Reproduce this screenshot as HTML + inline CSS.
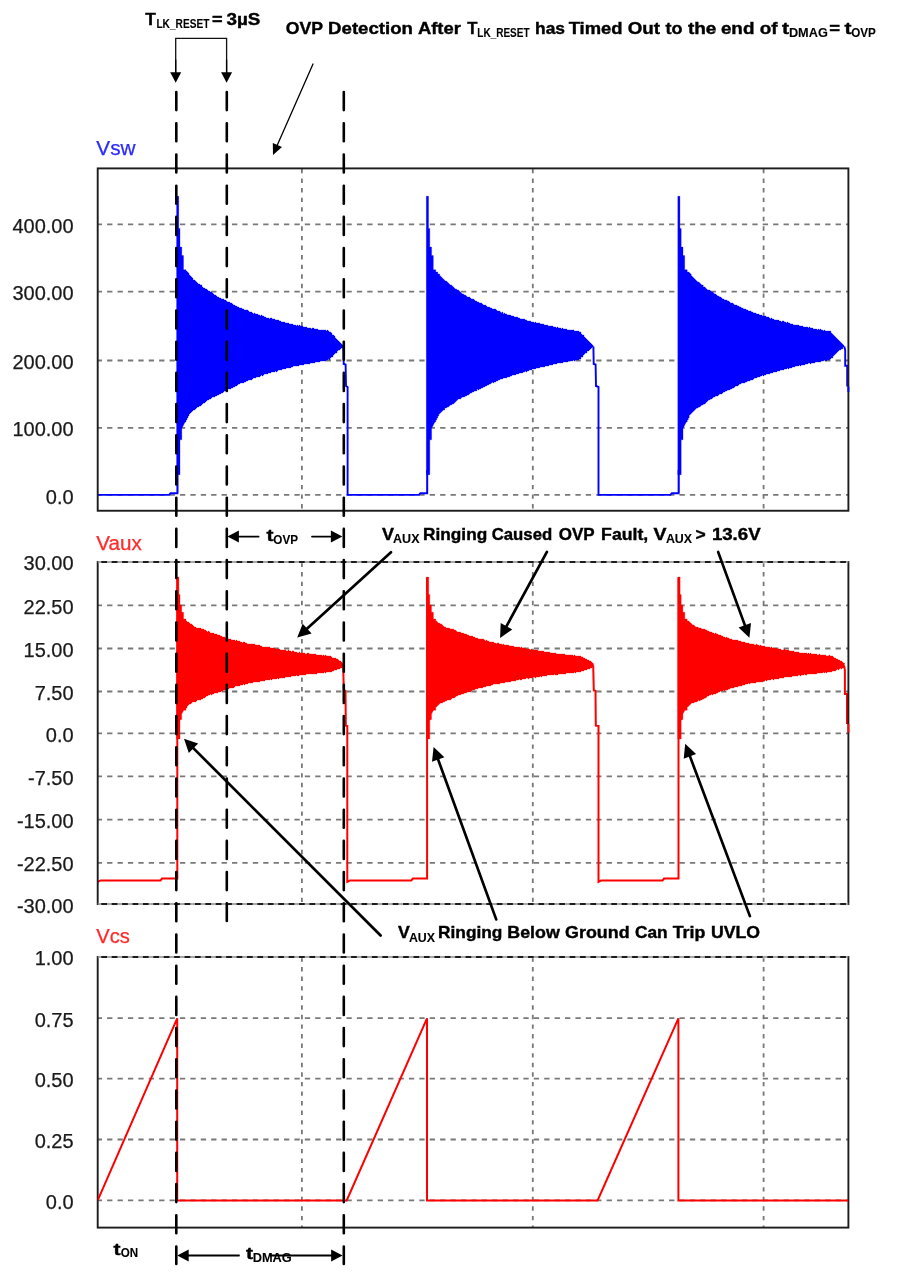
<!DOCTYPE html>
<html><head><meta charset="utf-8"><title>Waveforms</title>
<style>html,body{margin:0;padding:0;background:#fff}svg{display:block}</style>
</head><body>
<svg width="906" height="1276" viewBox="0 0 906 1276">
<rect width="906" height="1276" fill="#fff"/>
<line x1="97.7" y1="224.3" x2="848.4" y2="224.3" stroke="#787878" stroke-width="1.8" stroke-dasharray="5.3 5.107" stroke-dashoffset="1.0"/>
<line x1="97.7" y1="291.7" x2="848.4" y2="291.7" stroke="#787878" stroke-width="1.8" stroke-dasharray="5.3 5.107" stroke-dashoffset="1.0"/>
<line x1="97.7" y1="360.5" x2="848.4" y2="360.5" stroke="#787878" stroke-width="1.8" stroke-dasharray="5.3 5.107" stroke-dashoffset="1.0"/>
<line x1="97.7" y1="427.8" x2="848.4" y2="427.8" stroke="#787878" stroke-width="1.8" stroke-dasharray="5.3 5.107" stroke-dashoffset="1.0"/>
<line x1="97.7" y1="494.9" x2="848.4" y2="494.9" stroke="#787878" stroke-width="1.8" stroke-dasharray="5.3 5.107" stroke-dashoffset="1.0"/>
<line x1="301.9" y1="168.4" x2="301.9" y2="510.75" stroke="#787878" stroke-width="1.8" stroke-dasharray="4.4 5.175" stroke-dashoffset="9.075"/>
<line x1="532.8" y1="168.4" x2="532.8" y2="510.75" stroke="#787878" stroke-width="1.8" stroke-dasharray="4.4 5.175" stroke-dashoffset="9.075"/>
<line x1="763.6" y1="168.4" x2="763.6" y2="510.75" stroke="#787878" stroke-width="1.8" stroke-dasharray="4.4 5.175" stroke-dashoffset="9.075"/>
<clipPath id="c1"><rect x="97.7" y="168.4" width="751.9" height="342.35"/></clipPath>
<g clip-path="url(#c1)">
<polygon points="176.6,196.3 178.7,196.3 178.7,228.4 180.0,228.4 180.0,247.1 181.8,247.1 181.8,255.6 183.5,255.6 183.5,269.7 186.0,269.7 186.0,271.0 187.0,271.0 187.0,272.0 188.0,272.0 188.0,273.0 189.0,273.0 189.0,275.0 190.0,275.0 190.0,276.0 191.0,276.0 191.0,277.0 192.0,277.0 192.0,278.0 193.0,278.0 193.0,280.0 194.0,280.0 194.0,280.0 195.0,280.0 195.0,281.0 196.0,281.0 196.0,282.0 197.0,282.0 197.0,283.0 198.0,283.0 198.0,284.0 199.0,284.0 199.0,284.0 200.0,284.0 200.0,285.0 201.0,285.0 201.0,285.0 202.0,285.0 202.0,287.0 203.0,287.0 203.0,288.0 204.0,288.0 204.0,288.0 205.0,288.0 205.0,289.0 206.0,289.0 206.0,289.0 207.0,289.0 207.0,290.0 208.0,290.0 208.0,291.0 209.0,291.0 209.0,291.0 210.0,291.0 210.0,292.0 211.0,292.0 211.0,292.0 212.0,292.0 212.0,293.0 213.0,293.0 213.0,294.0 214.0,294.0 214.0,295.0 215.0,295.0 215.0,295.0 216.0,295.0 216.0,296.0 217.0,296.0 217.0,297.0 218.0,297.0 218.0,297.0 219.0,297.0 219.0,298.0 220.0,298.0 220.0,298.0 221.0,298.0 221.0,299.0 222.0,299.0 222.0,299.0 223.0,299.0 223.0,299.0 224.0,299.0 224.0,300.0 225.0,300.0 225.0,300.0 226.0,300.0 226.0,301.0 227.0,301.0 227.0,302.0 228.0,302.0 228.0,302.0 229.0,302.0 229.0,302.0 230.0,302.0 230.0,303.0 231.0,303.0 231.0,303.0 232.0,303.0 232.0,304.0 233.0,304.0 233.0,305.0 234.0,305.0 234.0,305.0 235.0,305.0 235.0,306.0 236.0,306.0 236.0,306.0 237.0,306.0 237.0,307.0 238.0,307.0 238.0,307.0 239.0,307.0 239.0,308.0 240.0,308.0 240.0,308.0 241.0,308.0 241.0,308.0 242.0,308.0 242.0,309.0 243.0,309.0 243.0,309.0 244.0,309.0 244.0,310.0 245.0,310.0 245.0,310.0 246.0,310.0 246.0,310.0 247.0,310.0 247.0,310.0 248.0,310.0 248.0,311.0 249.0,311.0 249.0,312.0 250.0,312.0 250.0,312.0 251.0,312.0 251.0,312.0 252.0,312.0 252.0,313.0 253.0,313.0 253.0,314.0 254.0,314.0 254.0,313.0 255.0,313.0 255.0,314.0 256.0,314.0 256.0,314.0 257.0,314.0 257.0,314.0 258.0,314.0 258.0,315.0 259.0,315.0 259.0,315.0 260.0,315.0 260.0,316.0 261.0,316.0 261.0,315.0 262.0,315.0 262.0,316.0 263.0,316.0 263.0,316.0 264.0,316.0 264.0,317.0 265.0,317.0 265.0,317.0 266.0,317.0 266.0,318.0 267.0,318.0 267.0,318.0 268.0,318.0 268.0,318.0 269.0,318.0 269.0,319.0 270.0,319.0 270.0,318.0 271.0,318.0 271.0,318.0 272.0,318.0 272.0,319.0 273.0,319.0 273.0,319.0 274.0,319.0 274.0,319.0 275.0,319.0 275.0,320.0 276.0,320.0 276.0,320.0 277.0,320.0 277.0,320.0 278.0,320.0 278.0,320.0 279.0,320.0 279.0,321.0 280.0,321.0 280.0,321.0 281.0,321.0 281.0,322.0 282.0,322.0 282.0,322.0 283.0,322.0 283.0,322.0 284.0,322.0 284.0,322.0 285.0,322.0 285.0,323.0 286.0,323.0 286.0,323.0 287.0,323.0 287.0,323.0 288.0,323.0 288.0,323.0 289.0,323.0 289.0,324.0 290.0,324.0 290.0,324.0 291.0,324.0 291.0,324.0 292.0,324.0 292.0,324.0 293.0,324.0 293.0,325.0 294.0,325.0 294.0,325.0 295.0,325.0 295.0,325.0 296.0,325.0 296.0,326.0 297.0,326.0 297.0,325.0 298.0,325.0 298.0,326.0 299.0,326.0 299.0,325.0 300.0,325.0 300.0,326.0 301.0,326.0 301.0,326.0 302.0,326.0 302.0,326.0 303.0,326.0 303.0,327.0 304.0,327.0 304.0,327.0 305.0,327.0 305.0,327.0 306.0,327.0 306.0,327.0 307.0,327.0 307.0,328.0 308.0,328.0 308.0,328.0 309.0,328.0 309.0,328.0 310.0,328.0 310.0,328.0 311.0,328.0 311.0,329.0 312.0,329.0 312.0,328.0 313.0,328.0 313.0,328.0 314.0,328.0 314.0,329.0 315.0,329.0 315.0,329.0 316.0,329.0 316.0,329.0 317.0,329.0 317.0,329.0 318.0,329.0 318.0,330.0 319.0,330.0 319.0,330.0 320.0,330.0 320.0,330.0 321.0,330.0 321.0,330.0 322.0,330.0 322.0,330.0 323.0,330.0 323.0,330.0 324.0,330.0 324.0,330.0 325.0,330.0 325.0,330.0 326.0,330.0 326.0,331.0 327.0,331.0 327.0,330.0 328.0,330.0 328.0,331.0 329.0,331.0 329.0,332.0 330.0,332.0 330.0,332.0 331.0,332.0 331.0,333.0 332.0,333.0 332.0,335.0 333.0,335.0 333.0,335.0 334.0,335.0 334.0,336.0 335.0,336.0 335.0,338.0 336.0,338.0 336.0,339.0 337.0,339.0 337.0,340.0 338.0,340.0 338.0,341.0 339.0,341.0 339.0,342.0 340.0,342.0 340.0,343.0 341.0,343.0 341.0,344.0 342.0,344.0 342.0,345.0 343.0,345.0 343.0,346.0 343.2,346.0 343.2,346.4 343.2,346.4 343.2,347.0 343.0,347.0 343.0,348.0 342.0,348.0 342.0,348.0 341.0,348.0 341.0,349.0 340.0,349.0 340.0,350.0 339.0,350.0 339.0,350.0 338.0,350.0 338.0,351.0 337.0,351.0 337.0,353.0 336.0,353.0 336.0,353.0 335.0,353.0 335.0,354.0 334.0,354.0 334.0,355.0 333.0,355.0 333.0,357.0 332.0,357.0 332.0,357.0 331.0,357.0 331.0,358.0 330.0,358.0 330.0,360.0 329.0,360.0 329.0,359.0 328.0,359.0 328.0,360.0 327.0,360.0 327.0,360.0 326.0,360.0 326.0,361.0 325.0,361.0 325.0,361.0 324.0,361.0 324.0,361.0 323.0,361.0 323.0,361.0 322.0,361.0 322.0,361.0 321.0,361.0 321.0,361.0 320.0,361.0 320.0,362.0 319.0,362.0 319.0,362.0 318.0,362.0 318.0,362.0 317.0,362.0 317.0,362.0 316.0,362.0 316.0,362.0 315.0,362.0 315.0,363.0 314.0,363.0 314.0,363.0 313.0,363.0 313.0,363.0 312.0,363.0 312.0,363.0 311.0,363.0 311.0,363.0 310.0,363.0 310.0,364.0 309.0,364.0 309.0,364.0 308.0,364.0 308.0,364.0 307.0,364.0 307.0,364.0 306.0,364.0 306.0,364.0 305.0,364.0 305.0,364.0 304.0,364.0 304.0,365.0 303.0,365.0 303.0,365.0 302.0,365.0 302.0,365.0 301.0,365.0 301.0,365.0 300.0,365.0 300.0,365.0 299.0,365.0 299.0,366.0 298.0,366.0 298.0,366.0 297.0,366.0 297.0,366.0 296.0,366.0 296.0,366.0 295.0,366.0 295.0,366.0 294.0,366.0 294.0,366.0 293.0,366.0 293.0,367.0 292.0,367.0 292.0,367.0 291.0,367.0 291.0,368.0 290.0,368.0 290.0,368.0 289.0,368.0 289.0,368.0 288.0,368.0 288.0,368.0 287.0,368.0 287.0,368.0 286.0,368.0 286.0,369.0 285.0,369.0 285.0,369.0 284.0,369.0 284.0,369.0 283.0,369.0 283.0,369.0 282.0,369.0 282.0,370.0 281.0,370.0 281.0,370.0 280.0,370.0 280.0,370.0 279.0,370.0 279.0,370.0 278.0,370.0 278.0,371.0 277.0,371.0 277.0,372.0 276.0,372.0 276.0,371.0 275.0,371.0 275.0,372.0 274.0,372.0 274.0,372.0 273.0,372.0 273.0,372.0 272.0,372.0 272.0,372.0 271.0,372.0 271.0,373.0 270.0,373.0 270.0,373.0 269.0,373.0 269.0,373.0 268.0,373.0 268.0,374.0 267.0,374.0 267.0,374.0 266.0,374.0 266.0,374.0 265.0,374.0 265.0,374.0 264.0,374.0 264.0,375.0 263.0,375.0 263.0,376.0 262.0,376.0 262.0,375.0 261.0,375.0 261.0,376.0 260.0,376.0 260.0,377.0 259.0,377.0 259.0,377.0 258.0,377.0 258.0,377.0 257.0,377.0 257.0,377.0 256.0,377.0 256.0,378.0 255.0,378.0 255.0,378.0 254.0,378.0 254.0,378.0 253.0,378.0 253.0,379.0 252.0,379.0 252.0,380.0 251.0,380.0 251.0,380.0 250.0,380.0 250.0,380.0 249.0,380.0 249.0,380.0 248.0,380.0 248.0,381.0 247.0,381.0 247.0,381.0 246.0,381.0 246.0,382.0 245.0,382.0 245.0,382.0 244.0,382.0 244.0,383.0 243.0,383.0 243.0,383.0 242.0,383.0 242.0,383.0 241.0,383.0 241.0,383.0 240.0,383.0 240.0,384.0 239.0,384.0 239.0,384.0 238.0,384.0 238.0,385.0 237.0,385.0 237.0,386.0 236.0,386.0 236.0,386.0 235.0,386.0 235.0,387.0 234.0,387.0 234.0,387.0 233.0,387.0 233.0,388.0 232.0,388.0 232.0,388.0 231.0,388.0 231.0,389.0 230.0,389.0 230.0,389.0 229.0,389.0 229.0,389.0 228.0,389.0 228.0,389.0 227.0,389.0 227.0,390.0 226.0,390.0 226.0,391.0 225.0,391.0 225.0,391.0 224.0,391.0 224.0,392.0 223.0,392.0 223.0,393.0 222.0,393.0 222.0,393.0 221.0,393.0 221.0,394.0 220.0,394.0 220.0,394.0 219.0,394.0 219.0,395.0 218.0,395.0 218.0,395.0 217.0,395.0 217.0,396.0 216.0,396.0 216.0,396.0 215.0,396.0 215.0,397.0 214.0,397.0 214.0,397.0 213.0,397.0 213.0,397.0 212.0,397.0 212.0,398.0 211.0,398.0 211.0,399.0 210.0,399.0 210.0,399.0 209.0,399.0 209.0,400.0 208.0,400.0 208.0,400.0 207.0,400.0 207.0,401.0 206.0,401.0 206.0,402.0 205.0,402.0 205.0,403.0 204.0,403.0 204.0,403.0 203.0,403.0 203.0,404.0 202.0,404.0 202.0,405.0 201.0,405.0 201.0,406.0 200.0,406.0 200.0,406.0 199.0,406.0 199.0,407.0 198.0,407.0 198.0,407.0 197.0,407.0 197.0,408.0 196.0,408.0 196.0,409.0 195.0,409.0 195.0,410.0 194.0,410.0 194.0,410.0 193.0,410.0 193.0,411.0 192.0,411.0 192.0,412.0 191.0,412.0 191.0,413.0 190.0,413.0 190.0,414.0 189.0,414.0 189.0,416.0 188.0,416.0 188.0,418.0 187.0,418.0 187.0,420.0 186.0,420.0 186.0,422.0 185.1,422.0 181.8,428.5 181.8,439.8 180.0,439.8 180.0,474.7 176.6,474.7" fill="#0000ff" stroke="#0000ff" stroke-width="0.3"/>
<line x1="177.6" y1="196.5" x2="177.6" y2="493" stroke="#0000ff" stroke-width="1.3"/>
<polygon points="426.4,196.3 428.5,196.3 428.5,228.4 429.8,228.4 429.8,247.1 431.6,247.1 431.6,255.6 433.3,255.6 433.3,269.7 435.8,269.7 435.8,272.0 436.8,272.0 436.8,272.0 437.8,272.0 437.8,274.0 438.8,274.0 438.8,274.0 439.8,274.0 439.8,276.0 440.8,276.0 440.8,277.0 441.8,277.0 441.8,278.0 442.8,278.0 442.8,279.0 443.8,279.0 443.8,280.0 444.8,280.0 444.8,281.0 445.8,281.0 445.8,281.0 446.8,281.0 446.8,282.0 447.8,282.0 447.8,283.0 448.8,283.0 448.8,284.0 449.8,284.0 449.8,285.0 450.8,285.0 450.8,285.0 451.8,285.0 451.8,286.0 452.8,286.0 452.8,287.0 453.8,287.0 453.8,288.0 454.8,288.0 454.8,289.0 455.8,289.0 455.8,289.0 456.8,289.0 456.8,290.0 457.8,290.0 457.8,290.0 458.8,290.0 458.8,291.0 459.8,291.0 459.8,292.0 460.8,292.0 460.8,293.0 461.8,293.0 461.8,294.0 462.8,294.0 462.8,294.0 463.8,294.0 463.8,295.0 464.8,295.0 464.8,295.0 465.8,295.0 465.8,296.0 466.8,296.0 466.8,297.0 467.8,297.0 467.8,297.0 468.9,297.0 468.9,297.0 469.9,297.0 469.9,298.0 470.9,298.0 470.9,299.0 471.9,299.0 471.9,299.0 472.9,299.0 472.9,299.0 473.9,299.0 473.9,300.0 474.9,300.0 474.9,301.0 475.9,301.0 475.9,301.0 476.9,301.0 476.9,302.0 477.9,302.0 477.9,302.0 478.9,302.0 478.9,303.0 479.9,303.0 479.9,303.0 480.9,303.0 480.9,303.0 481.9,303.0 481.9,304.0 482.9,304.0 482.9,305.0 483.9,305.0 483.9,305.0 484.9,305.0 484.9,305.0 485.9,305.0 485.9,306.0 486.9,306.0 486.9,307.0 487.9,307.0 487.9,307.0 488.9,307.0 488.9,307.0 489.9,307.0 489.9,308.0 490.9,308.0 490.9,308.0 491.9,308.0 491.9,309.0 492.9,309.0 492.9,309.0 493.9,309.0 493.9,309.0 494.9,309.0 494.9,309.0 495.9,309.0 495.9,310.0 496.9,310.0 496.9,311.0 497.9,311.0 497.9,311.0 498.9,311.0 498.9,311.0 499.9,311.0 499.9,312.0 500.9,312.0 500.9,313.0 501.9,313.0 501.9,312.0 502.9,312.0 502.9,314.0 503.9,314.0 503.9,313.0 504.9,313.0 504.9,314.0 505.9,314.0 505.9,314.0 506.9,314.0 506.9,315.0 507.9,315.0 507.9,315.0 508.9,315.0 508.9,315.0 509.9,315.0 509.9,315.0 510.9,315.0 510.9,316.0 511.9,316.0 511.9,316.0 512.9,316.0 512.9,316.0 513.9,316.0 513.9,317.0 514.9,317.0 514.9,317.0 515.9,317.0 515.9,317.0 516.9,317.0 516.9,317.0 517.9,317.0 517.9,318.0 518.9,318.0 518.9,318.0 519.9,318.0 519.9,319.0 520.9,319.0 520.9,319.0 521.9,319.0 521.9,319.0 522.9,319.0 522.9,319.0 523.9,319.0 523.9,319.0 524.9,319.0 524.9,320.0 525.9,320.0 525.9,320.0 526.9,320.0 526.9,321.0 527.9,321.0 527.9,321.0 528.9,321.0 528.9,321.0 529.9,321.0 529.9,321.0 530.9,321.0 530.9,322.0 531.9,322.0 531.9,322.0 532.9,322.0 532.9,322.0 533.9,322.0 533.9,323.0 534.9,323.0 534.9,322.0 535.9,322.0 535.9,323.0 536.9,323.0 536.9,323.0 537.9,323.0 537.9,323.0 538.9,323.0 538.9,323.0 539.9,323.0 539.9,324.0 540.9,324.0 540.9,324.0 541.9,324.0 541.9,324.0 542.9,324.0 542.9,324.0 543.9,324.0 543.9,325.0 544.9,325.0 544.9,325.0 545.9,325.0 545.9,325.0 546.9,325.0 546.9,325.0 547.9,325.0 547.9,326.0 548.9,326.0 548.9,326.0 549.9,326.0 549.9,326.0 550.9,326.0 550.9,326.0 552.0,326.0 552.0,326.0 553.0,326.0 553.0,327.0 554.0,327.0 554.0,327.0 555.0,327.0 555.0,327.0 556.0,327.0 556.0,328.0 557.0,328.0 557.0,327.0 558.0,327.0 558.0,328.0 559.0,328.0 559.0,328.0 560.0,328.0 560.0,328.0 561.0,328.0 561.0,329.0 562.0,329.0 562.0,328.0 563.0,328.0 563.0,329.0 564.0,329.0 564.0,329.0 565.0,329.0 565.0,329.0 566.0,329.0 566.0,329.0 567.0,329.0 567.0,330.0 568.0,330.0 568.0,330.0 569.0,330.0 569.0,330.0 570.0,330.0 570.0,330.0 571.0,330.0 571.0,330.0 572.0,330.0 572.0,330.0 573.0,330.0 573.0,330.0 574.0,330.0 574.0,331.0 575.0,331.0 575.0,331.0 576.0,331.0 576.0,331.0 577.0,331.0 577.0,331.0 578.0,331.0 578.0,331.0 579.0,331.0 579.0,332.0 580.0,332.0 580.0,332.0 581.0,332.0 581.0,334.0 582.0,334.0 582.0,335.0 583.0,335.0 583.0,335.0 584.0,335.0 584.0,337.0 585.0,337.0 585.0,338.0 586.0,338.0 586.0,339.0 587.0,339.0 587.0,340.0 588.0,340.0 588.0,341.0 589.0,341.0 589.0,342.0 590.0,342.0 590.0,343.0 591.0,343.0 591.0,344.0 592.0,344.0 592.0,345.0 593.0,345.0 593.0,346.0 593.2,346.0 593.2,346.4 593.2,346.4 593.2,346.0 593.0,346.0 593.0,347.0 592.0,347.0 592.0,348.0 591.0,348.0 591.0,349.0 590.0,349.0 590.0,350.0 589.0,350.0 589.0,351.0 588.0,351.0 588.0,351.0 587.0,351.0 587.0,353.0 586.0,353.0 586.0,353.0 585.0,353.0 585.0,354.0 584.0,354.0 584.0,355.0 583.0,355.0 583.0,357.0 582.0,357.0 582.0,357.0 581.0,357.0 581.0,359.0 580.0,359.0 580.0,359.0 579.0,359.0 579.0,360.0 578.0,360.0 578.0,360.0 577.0,360.0 577.0,360.0 576.0,360.0 576.0,360.0 575.0,360.0 575.0,361.0 574.0,361.0 574.0,360.0 573.0,360.0 573.0,361.0 572.0,361.0 572.0,361.0 571.0,361.0 571.0,361.0 570.0,361.0 570.0,361.0 569.0,361.0 569.0,361.0 568.0,361.0 568.0,362.0 567.0,362.0 567.0,362.0 566.0,362.0 566.0,362.0 565.0,362.0 565.0,362.0 564.0,362.0 564.0,362.0 563.0,362.0 563.0,363.0 562.0,363.0 562.0,363.0 561.0,363.0 561.0,363.0 560.0,363.0 560.0,363.0 559.0,363.0 559.0,363.0 558.0,363.0 558.0,363.0 557.0,363.0 557.0,364.0 556.0,364.0 556.0,364.0 555.0,364.0 555.0,364.0 554.0,364.0 554.0,364.0 553.0,364.0 553.0,365.0 552.0,365.0 552.0,365.0 550.9,365.0 550.9,365.0 549.9,365.0 549.9,365.0 548.9,365.0 548.9,366.0 547.9,366.0 547.9,366.0 546.9,366.0 546.9,366.0 545.9,366.0 545.9,366.0 544.9,366.0 544.9,367.0 543.9,367.0 543.9,367.0 542.9,367.0 542.9,367.0 541.9,367.0 541.9,367.0 540.9,367.0 540.9,367.0 539.9,367.0 539.9,368.0 538.9,368.0 538.9,368.0 537.9,368.0 537.9,368.0 536.9,368.0 536.9,368.0 535.9,368.0 535.9,369.0 534.9,369.0 534.9,369.0 533.9,369.0 533.9,369.0 532.9,369.0 532.9,369.0 531.9,369.0 531.9,370.0 530.9,370.0 530.9,370.0 529.9,370.0 529.9,370.0 528.9,370.0 528.9,371.0 527.9,371.0 527.9,371.0 526.9,371.0 526.9,372.0 525.9,372.0 525.9,371.0 524.9,371.0 524.9,372.0 523.9,372.0 523.9,372.0 522.9,372.0 522.9,373.0 521.9,373.0 521.9,373.0 520.9,373.0 520.9,373.0 519.9,373.0 519.9,373.0 518.9,373.0 518.9,374.0 517.9,374.0 517.9,374.0 516.9,374.0 516.9,374.0 515.9,374.0 515.9,375.0 514.9,375.0 514.9,375.0 513.9,375.0 513.9,375.0 512.9,375.0 512.9,375.0 511.9,375.0 511.9,376.0 510.9,376.0 510.9,376.0 509.9,376.0 509.9,377.0 508.9,377.0 508.9,377.0 507.9,377.0 507.9,377.0 506.9,377.0 506.9,378.0 505.9,378.0 505.9,378.0 504.9,378.0 504.9,378.0 503.9,378.0 503.9,378.0 502.9,378.0 502.9,379.0 501.9,379.0 501.9,379.0 500.9,379.0 500.9,379.0 499.9,379.0 499.9,380.0 498.9,380.0 498.9,380.0 497.9,380.0 497.9,381.0 496.9,381.0 496.9,381.0 495.9,381.0 495.9,382.0 494.9,382.0 494.9,382.0 493.9,382.0 493.9,383.0 492.9,383.0 492.9,382.0 491.9,382.0 491.9,383.0 490.9,383.0 490.9,384.0 489.9,384.0 489.9,384.0 488.9,384.0 488.9,385.0 487.9,385.0 487.9,385.0 486.9,385.0 486.9,386.0 485.9,386.0 485.9,386.0 484.9,386.0 484.9,387.0 483.9,387.0 483.9,387.0 482.9,387.0 482.9,388.0 481.9,388.0 481.9,388.0 480.9,388.0 480.9,389.0 479.9,389.0 479.9,389.0 478.9,389.0 478.9,390.0 477.9,390.0 477.9,389.0 476.9,389.0 476.9,391.0 475.9,391.0 475.9,391.0 474.9,391.0 474.9,391.0 473.9,391.0 473.9,392.0 472.9,392.0 472.9,392.0 471.9,392.0 471.9,393.0 470.9,393.0 470.9,393.0 469.9,393.0 469.9,394.0 468.9,394.0 468.9,395.0 467.8,395.0 467.8,395.0 466.8,395.0 466.8,396.0 465.8,396.0 465.8,396.0 464.8,396.0 464.8,397.0 463.8,397.0 463.8,397.0 462.8,397.0 462.8,397.0 461.8,397.0 461.8,398.0 460.8,398.0 460.8,399.0 459.8,399.0 459.8,399.0 458.8,399.0 458.8,399.0 457.8,399.0 457.8,400.0 456.8,400.0 456.8,401.0 455.8,401.0 455.8,402.0 454.8,402.0 454.8,403.0 453.8,403.0 453.8,404.0 452.8,404.0 452.8,404.0 451.8,404.0 451.8,405.0 450.8,405.0 450.8,405.0 449.8,405.0 449.8,406.0 448.8,406.0 448.8,407.0 447.8,407.0 447.8,407.0 446.8,407.0 446.8,408.0 445.8,408.0 445.8,408.0 444.8,408.0 444.8,410.0 443.8,410.0 443.8,410.0 442.8,410.0 442.8,411.0 441.8,411.0 441.8,412.0 440.8,412.0 440.8,413.0 439.8,413.0 439.8,414.0 438.8,414.0 438.8,416.0 437.8,416.0 437.8,418.0 436.8,418.0 436.8,420.0 435.8,420.0 435.8,422.0 434.9,422.0 431.6,428.5 431.6,439.8 429.8,439.8 429.8,474.7 426.4,474.7" fill="#0000ff" stroke="#0000ff" stroke-width="0.3"/>
<line x1="427.4" y1="196.5" x2="427.4" y2="493" stroke="#0000ff" stroke-width="1.3"/>
<polygon points="677.8,196.3 679.9,196.3 679.9,228.4 681.2,228.4 681.2,247.1 683.0,247.1 683.0,255.6 684.7,255.6 684.7,269.7 687.2,269.7 687.2,272.0 688.2,272.0 688.2,272.0 689.2,272.0 689.2,273.0 690.2,273.0 690.2,274.0 691.2,274.0 691.2,276.0 692.2,276.0 692.2,277.0 693.2,277.0 693.2,278.0 694.2,278.0 694.2,279.0 695.2,279.0 695.2,280.0 696.2,280.0 696.2,281.0 697.2,281.0 697.2,282.0 698.2,282.0 698.2,282.0 699.2,282.0 699.2,283.0 700.2,283.0 700.2,284.0 701.2,284.0 701.2,285.0 702.2,285.0 702.2,285.0 703.2,285.0 703.2,287.0 704.2,287.0 704.2,287.0 705.2,287.0 705.2,288.0 706.1,288.0 706.1,289.0 707.1,289.0 707.1,290.0 708.1,290.0 708.1,290.0 709.1,290.0 709.1,290.0 710.1,290.0 710.1,291.0 711.1,291.0 711.1,292.0 712.1,292.0 712.1,292.0 713.1,292.0 713.1,293.0 714.1,293.0 714.1,294.0 715.1,294.0 715.1,294.0 716.1,294.0 716.1,295.0 717.1,295.0 717.1,296.0 718.1,296.0 718.1,296.0 719.1,296.0 719.1,297.0 720.1,297.0 720.1,297.0 721.1,297.0 721.1,298.0 722.1,298.0 722.1,299.0 723.1,299.0 723.1,299.0 724.1,299.0 724.1,300.0 725.1,300.0 725.1,300.0 726.1,300.0 726.1,300.0 727.1,300.0 727.1,301.0 728.1,301.0 728.1,301.0 729.1,301.0 729.1,302.0 730.1,302.0 730.1,303.0 731.1,303.0 731.1,303.0 732.1,303.0 732.1,303.0 733.1,303.0 733.1,304.0 734.1,304.0 734.1,305.0 735.1,305.0 735.1,305.0 736.1,305.0 736.1,305.0 737.1,305.0 737.1,306.0 738.1,306.0 738.1,306.0 739.1,306.0 739.1,307.0 740.1,307.0 740.1,307.0 741.1,307.0 741.1,308.0 742.1,308.0 742.1,308.0 743.1,308.0 743.1,309.0 744.1,309.0 744.1,309.0 745.1,309.0 745.1,309.0 746.1,309.0 746.1,310.0 747.1,310.0 747.1,310.0 748.1,310.0 748.1,311.0 749.1,311.0 749.1,311.0 750.1,311.0 750.1,311.0 751.1,311.0 751.1,312.0 752.1,312.0 752.1,312.0 753.1,312.0 753.1,313.0 754.1,313.0 754.1,313.0 755.1,313.0 755.1,313.0 756.1,313.0 756.1,314.0 757.1,314.0 757.1,314.0 758.1,314.0 758.1,314.0 759.1,314.0 759.1,315.0 760.1,315.0 760.1,315.0 761.0,315.0 761.0,315.0 762.0,315.0 762.0,316.0 763.0,316.0 763.0,316.0 764.0,316.0 764.0,316.0 765.0,316.0 765.0,316.0 766.0,316.0 766.0,317.0 767.0,317.0 767.0,317.0 768.0,317.0 768.0,317.0 769.0,317.0 769.0,318.0 770.0,318.0 770.0,319.0 771.0,319.0 771.0,318.0 772.0,318.0 772.0,319.0 773.0,319.0 773.0,319.0 774.0,319.0 774.0,320.0 775.0,320.0 775.0,320.0 776.0,320.0 776.0,320.0 777.0,320.0 777.0,320.0 778.0,320.0 778.0,320.0 779.0,320.0 779.0,321.0 780.0,321.0 780.0,321.0 781.0,321.0 781.0,322.0 782.0,322.0 782.0,321.0 783.0,321.0 783.0,321.0 784.0,321.0 784.0,322.0 785.0,322.0 785.0,322.0 786.0,322.0 786.0,323.0 787.0,323.0 787.0,322.0 788.0,322.0 788.0,323.0 789.0,323.0 789.0,323.0 790.0,323.0 790.0,324.0 791.0,324.0 791.0,324.0 792.0,324.0 792.0,324.0 793.0,324.0 793.0,325.0 794.0,325.0 794.0,325.0 795.0,325.0 795.0,325.0 796.0,325.0 796.0,325.0 797.0,325.0 797.0,325.0 798.0,325.0 798.0,325.0 799.0,325.0 799.0,326.0 800.0,326.0 800.0,326.0 801.0,326.0 801.0,326.0 802.0,326.0 802.0,326.0 803.0,326.0 803.0,327.0 804.0,327.0 804.0,327.0 805.0,327.0 805.0,327.0 806.0,327.0 806.0,327.0 807.0,327.0 807.0,327.0 808.0,327.0 808.0,328.0 809.0,328.0 809.0,327.0 810.0,327.0 810.0,328.0 811.0,328.0 811.0,328.0 812.0,328.0 812.0,328.0 813.0,328.0 813.0,329.0 814.0,329.0 814.0,329.0 815.0,329.0 815.0,329.0 816.0,329.0 816.0,329.0 816.9,329.0 816.9,330.0 817.9,330.0 817.9,329.0 818.9,329.0 818.9,330.0 819.9,330.0 819.9,329.0 820.9,329.0 820.9,330.0 821.9,330.0 821.9,330.0 822.9,330.0 822.9,331.0 823.9,331.0 823.9,330.0 824.9,330.0 824.9,331.0 825.9,331.0 825.9,331.0 826.9,331.0 826.9,331.0 827.9,331.0 827.9,331.0 828.9,331.0 828.9,331.0 829.9,331.0 829.9,331.0 830.9,331.0 830.9,333.0 831.9,333.0 831.9,334.0 832.9,334.0 832.9,335.0 833.9,335.0 833.9,336.0 834.9,336.0 834.9,337.0 835.9,337.0 835.9,338.0 836.9,338.0 836.9,339.0 837.9,339.0 837.9,340.0 838.9,340.0 838.9,341.0 839.9,341.0 839.9,342.0 840.9,342.0 840.9,343.0 841.9,343.0 841.9,344.0 842.9,344.0 842.9,345.0 843.9,345.0 843.9,346.0 844.1,346.0 844.1,346.4 844.1,346.4 844.1,347.0 843.9,347.0 843.9,347.0 842.9,347.0 842.9,349.0 841.9,349.0 841.9,349.0 840.9,349.0 840.9,350.0 839.9,350.0 839.9,350.0 838.9,350.0 838.9,351.0 837.9,351.0 837.9,352.0 836.9,352.0 836.9,353.0 835.9,353.0 835.9,354.0 834.9,354.0 834.9,355.0 833.9,355.0 833.9,356.0 832.9,356.0 832.9,358.0 831.9,358.0 831.9,358.0 830.9,358.0 830.9,359.0 829.9,359.0 829.9,360.0 828.9,360.0 828.9,360.0 827.9,360.0 827.9,360.0 826.9,360.0 826.9,361.0 825.9,361.0 825.9,361.0 824.9,361.0 824.9,360.0 823.9,360.0 823.9,361.0 822.9,361.0 822.9,361.0 821.9,361.0 821.9,361.0 820.9,361.0 820.9,362.0 819.9,362.0 819.9,362.0 818.9,362.0 818.9,362.0 817.9,362.0 817.9,362.0 816.9,362.0 816.9,362.0 816.0,362.0 816.0,362.0 815.0,362.0 815.0,363.0 814.0,363.0 814.0,363.0 813.0,363.0 813.0,363.0 812.0,363.0 812.0,363.0 811.0,363.0 811.0,364.0 810.0,364.0 810.0,363.0 809.0,363.0 809.0,363.0 808.0,363.0 808.0,364.0 807.0,364.0 807.0,364.0 806.0,364.0 806.0,364.0 805.0,364.0 805.0,365.0 804.0,365.0 804.0,365.0 803.0,365.0 803.0,365.0 802.0,365.0 802.0,365.0 801.0,365.0 801.0,366.0 800.0,366.0 800.0,365.0 799.0,365.0 799.0,366.0 798.0,366.0 798.0,366.0 797.0,366.0 797.0,366.0 796.0,366.0 796.0,366.0 795.0,366.0 795.0,367.0 794.0,367.0 794.0,367.0 793.0,367.0 793.0,367.0 792.0,367.0 792.0,368.0 791.0,368.0 791.0,368.0 790.0,368.0 790.0,368.0 789.0,368.0 789.0,369.0 788.0,369.0 788.0,368.0 787.0,368.0 787.0,369.0 786.0,369.0 786.0,369.0 785.0,369.0 785.0,369.0 784.0,369.0 784.0,370.0 783.0,370.0 783.0,370.0 782.0,370.0 782.0,370.0 781.0,370.0 781.0,370.0 780.0,370.0 780.0,371.0 779.0,371.0 779.0,371.0 778.0,371.0 778.0,371.0 777.0,371.0 777.0,372.0 776.0,372.0 776.0,372.0 775.0,372.0 775.0,372.0 774.0,372.0 774.0,372.0 773.0,372.0 773.0,373.0 772.0,373.0 772.0,373.0 771.0,373.0 771.0,373.0 770.0,373.0 770.0,374.0 769.0,374.0 769.0,374.0 768.0,374.0 768.0,374.0 767.0,374.0 767.0,374.0 766.0,374.0 766.0,375.0 765.0,375.0 765.0,375.0 764.0,375.0 764.0,376.0 763.0,376.0 763.0,375.0 762.0,375.0 762.0,376.0 761.0,376.0 761.0,376.0 760.1,376.0 760.1,377.0 759.1,377.0 759.1,377.0 758.1,377.0 758.1,377.0 757.1,377.0 757.1,378.0 756.1,378.0 756.1,378.0 755.1,378.0 755.1,378.0 754.1,378.0 754.1,379.0 753.1,379.0 753.1,380.0 752.1,380.0 752.1,380.0 751.1,380.0 751.1,380.0 750.1,380.0 750.1,381.0 749.1,381.0 749.1,381.0 748.1,381.0 748.1,381.0 747.1,381.0 747.1,382.0 746.1,382.0 746.1,382.0 745.1,382.0 745.1,383.0 744.1,383.0 744.1,383.0 743.1,383.0 743.1,383.0 742.1,383.0 742.1,383.0 741.1,383.0 741.1,384.0 740.1,384.0 740.1,384.0 739.1,384.0 739.1,385.0 738.1,385.0 738.1,386.0 737.1,386.0 737.1,386.0 736.1,386.0 736.1,386.0 735.1,386.0 735.1,387.0 734.1,387.0 734.1,388.0 733.1,388.0 733.1,388.0 732.1,388.0 732.1,389.0 731.1,389.0 731.1,389.0 730.1,389.0 730.1,390.0 729.1,390.0 729.1,390.0 728.1,390.0 728.1,390.0 727.1,390.0 727.1,391.0 726.1,391.0 726.1,391.0 725.1,391.0 725.1,392.0 724.1,392.0 724.1,392.0 723.1,392.0 723.1,393.0 722.1,393.0 722.1,394.0 721.1,394.0 721.1,394.0 720.1,394.0 720.1,394.0 719.1,394.0 719.1,395.0 718.1,395.0 718.1,396.0 717.1,396.0 717.1,396.0 716.1,396.0 716.1,396.0 715.1,396.0 715.1,397.0 714.1,397.0 714.1,397.0 713.1,397.0 713.1,398.0 712.1,398.0 712.1,399.0 711.1,399.0 711.1,399.0 710.1,399.0 710.1,400.0 709.1,400.0 709.1,400.0 708.1,400.0 708.1,401.0 707.1,401.0 707.1,402.0 706.1,402.0 706.1,403.0 705.2,403.0 705.2,404.0 704.2,404.0 704.2,404.0 703.2,404.0 703.2,405.0 702.2,405.0 702.2,405.0 701.2,405.0 701.2,406.0 700.2,406.0 700.2,407.0 699.2,407.0 699.2,407.0 698.2,407.0 698.2,408.0 697.2,408.0 697.2,408.0 696.2,408.0 696.2,409.0 695.2,409.0 695.2,410.0 694.2,410.0 694.2,411.0 693.2,411.0 693.2,412.0 692.2,412.0 692.2,413.0 691.2,413.0 691.2,414.0 690.2,414.0 690.2,415.0 689.2,415.0 689.2,418.0 688.2,418.0 688.2,420.0 687.2,420.0 687.2,422.0 686.3,422.0 683.0,428.5 683.0,439.8 681.2,439.8 681.2,474.7 677.8,474.7" fill="#0000ff" stroke="#0000ff" stroke-width="0.3"/>
<line x1="678.8" y1="196.5" x2="678.8" y2="493" stroke="#0000ff" stroke-width="1.3"/>
<path d="M97.7,494.9 L169.2,494.9 L170.6,493.2 L177.4,493.2 L177.4,470.0 M343.4,346.4 L343.7,364.0 L345.6,364.5 L346.0,386.0 L347.6,387.0 L347.6,494.9 L419.0,494.9 L420.4,493.2 L427.2,493.2 L427.2,470.0 M593.4,346.4 L593.7,364.0 L595.6,364.5 L596.0,386.0 L598.5,387.0 L598.5,494.9 L670.4,494.9 L671.8,493.2 L678.6,493.2 L678.6,470.0 M844.3,346.4 L845.2,350.0 L845.2,365.7 L847.2,365.7 L847.2,386.5" fill="none" stroke="#0000ff" stroke-width="1.9" stroke-linejoin="miter"/>
</g>
<rect x="97.7" y="168.4" width="750.6999999999999" height="342.35" fill="none" stroke="#1c1c1c" stroke-width="1.9"/>
<line x1="848.4" y1="386.5" x2="848.4" y2="392" stroke="#0000ff" stroke-width="1.9"/>
<text x="73.6" y="232.9" text-anchor="end" font-size="20" font-family="Liberation Sans, Arial, sans-serif" fill="#1a1a1a" stroke="#1a1a1a" stroke-width="0.25">400.00</text>
<text x="73.6" y="300.3" text-anchor="end" font-size="20" font-family="Liberation Sans, Arial, sans-serif" fill="#1a1a1a" stroke="#1a1a1a" stroke-width="0.25">300.00</text>
<text x="73.6" y="369.1" text-anchor="end" font-size="20" font-family="Liberation Sans, Arial, sans-serif" fill="#1a1a1a" stroke="#1a1a1a" stroke-width="0.25">200.00</text>
<text x="73.6" y="436.4" text-anchor="end" font-size="20" font-family="Liberation Sans, Arial, sans-serif" fill="#1a1a1a" stroke="#1a1a1a" stroke-width="0.25">100.00</text>
<text x="73.6" y="503.5" text-anchor="end" font-size="20" font-family="Liberation Sans, Arial, sans-serif" fill="#1a1a1a" stroke="#1a1a1a" stroke-width="0.25">0.0</text>
<text x="96.3" y="155.0" text-anchor="start" font-size="20" textLength="39.2" lengthAdjust="spacingAndGlyphs" font-family="Liberation Sans, Arial, sans-serif" fill="#2b2bff" stroke="#2b2bff" stroke-width="0.25">Vsw</text>
<line x1="97.7" y1="605.3" x2="848.4" y2="605.3" stroke="#787878" stroke-width="1.8" stroke-dasharray="5.3 5.107" stroke-dashoffset="1.0"/>
<line x1="97.7" y1="648.5" x2="848.4" y2="648.5" stroke="#787878" stroke-width="1.8" stroke-dasharray="5.3 5.107" stroke-dashoffset="1.0"/>
<line x1="97.7" y1="691.5" x2="848.4" y2="691.5" stroke="#787878" stroke-width="1.8" stroke-dasharray="5.3 5.107" stroke-dashoffset="1.0"/>
<line x1="97.7" y1="733.4" x2="848.4" y2="733.4" stroke="#787878" stroke-width="1.8" stroke-dasharray="5.3 5.107" stroke-dashoffset="1.0"/>
<line x1="97.7" y1="776.4" x2="848.4" y2="776.4" stroke="#787878" stroke-width="1.8" stroke-dasharray="5.3 5.107" stroke-dashoffset="1.0"/>
<line x1="97.7" y1="819.6" x2="848.4" y2="819.6" stroke="#787878" stroke-width="1.8" stroke-dasharray="5.3 5.107" stroke-dashoffset="1.0"/>
<line x1="97.7" y1="862.9" x2="848.4" y2="862.9" stroke="#787878" stroke-width="1.8" stroke-dasharray="5.3 5.107" stroke-dashoffset="1.0"/>
<line x1="301.9" y1="562.0" x2="301.9" y2="904.1" stroke="#787878" stroke-width="1.8" stroke-dasharray="4.4 5.175" stroke-dashoffset="9.075"/>
<line x1="532.8" y1="562.0" x2="532.8" y2="904.1" stroke="#787878" stroke-width="1.8" stroke-dasharray="4.4 5.175" stroke-dashoffset="9.075"/>
<line x1="763.6" y1="562.0" x2="763.6" y2="904.1" stroke="#787878" stroke-width="1.8" stroke-dasharray="4.4 5.175" stroke-dashoffset="9.075"/>
<clipPath id="c2"><rect x="97.7" y="562.0" width="751.9" height="342.1"/></clipPath>
<g clip-path="url(#c2)">
<polygon points="176.6,577.0 178.9,577.0 178.9,594.4 180.0,594.4 180.0,605.0 181.7,605.0 181.7,612.3 183.6,612.3 183.6,618.9 186.0,618.9 186.0,621.0 187.0,621.0 187.0,622.0 188.0,622.0 188.0,622.0 189.0,622.0 189.0,623.0 190.0,623.0 190.0,624.0 191.0,624.0 191.0,624.0 192.0,624.0 192.0,625.0 193.0,625.0 193.0,626.0 194.0,626.0 194.0,627.0 195.0,627.0 195.0,627.0 196.0,627.0 196.0,628.0 197.0,628.0 197.0,628.0 198.0,628.0 198.0,628.0 199.0,628.0 199.0,628.0 200.0,628.0 200.0,628.0 201.0,628.0 201.0,629.0 202.0,629.0 202.0,629.0 203.0,629.0 203.0,629.0 204.0,629.0 204.0,630.0 205.0,630.0 205.0,630.0 206.0,630.0 206.0,631.0 207.0,631.0 207.0,632.0 208.0,632.0 208.0,631.0 209.0,631.0 209.0,632.0 210.0,632.0 210.0,633.0 211.0,633.0 211.0,633.0 212.0,633.0 212.0,633.0 213.0,633.0 213.0,633.0 214.0,633.0 214.0,634.0 215.0,634.0 215.0,634.0 216.0,634.0 216.0,634.0 217.0,634.0 217.0,635.0 218.0,635.0 218.0,635.0 219.0,635.0 219.0,635.0 220.0,635.0 220.0,636.0 221.0,636.0 221.0,636.0 222.0,636.0 222.0,637.0 223.0,637.0 223.0,637.0 224.0,637.0 224.0,637.0 225.0,637.0 225.0,638.0 226.0,638.0 226.0,638.0 227.0,638.0 227.0,638.0 228.0,638.0 228.0,639.0 229.0,639.0 229.0,639.0 230.0,639.0 230.0,639.0 231.0,639.0 231.0,640.0 232.0,640.0 232.0,640.0 233.0,640.0 233.0,640.0 234.0,640.0 234.0,640.0 235.0,640.0 235.0,641.0 236.0,641.0 236.0,640.0 237.0,640.0 237.0,641.0 238.0,641.0 238.0,641.0 239.0,641.0 239.0,641.0 240.0,641.0 240.0,642.0 241.0,642.0 241.0,642.0 242.0,642.0 242.0,643.0 243.0,643.0 243.0,642.0 244.0,642.0 244.0,642.0 245.0,642.0 245.0,643.0 246.0,643.0 246.0,643.0 247.0,643.0 247.0,644.0 248.0,644.0 248.0,644.0 249.0,644.0 249.0,644.0 250.0,644.0 250.0,644.0 251.0,644.0 251.0,644.0 252.0,644.0 252.0,644.0 253.0,644.0 253.0,644.0 254.0,644.0 254.0,644.0 255.0,644.0 255.0,645.0 256.0,645.0 256.0,645.0 257.0,645.0 257.0,645.0 258.0,645.0 258.0,645.0 259.0,645.0 259.0,645.0 260.0,645.0 260.0,646.0 261.0,646.0 261.0,646.0 262.0,646.0 262.0,647.0 263.0,647.0 263.0,647.0 264.0,647.0 264.0,647.0 265.0,647.0 265.0,647.0 266.0,647.0 266.0,647.0 267.0,647.0 267.0,647.0 268.0,647.0 268.0,647.0 269.0,647.0 269.0,647.0 270.0,647.0 270.0,648.0 271.0,648.0 271.0,648.0 272.0,648.0 272.0,648.0 273.0,648.0 273.0,648.0 274.0,648.0 274.0,648.0 275.0,648.0 275.0,649.0 276.0,649.0 276.0,649.0 277.0,649.0 277.0,649.0 278.0,649.0 278.0,649.0 279.0,649.0 279.0,649.0 280.0,649.0 280.0,650.0 281.0,650.0 281.0,650.0 282.0,650.0 282.0,650.0 283.0,650.0 283.0,650.0 284.0,650.0 284.0,650.0 285.0,650.0 285.0,650.0 286.0,650.0 286.0,651.0 287.0,651.0 287.0,651.0 288.0,651.0 288.0,650.0 289.0,650.0 289.0,651.0 290.0,651.0 290.0,651.0 291.0,651.0 291.0,652.0 292.0,652.0 292.0,651.0 293.0,651.0 293.0,651.0 294.0,651.0 294.0,652.0 295.0,652.0 295.0,652.0 296.0,652.0 296.0,652.0 297.0,652.0 297.0,653.0 298.0,653.0 298.0,653.0 299.0,653.0 299.0,652.0 300.0,652.0 300.0,653.0 301.0,653.0 301.0,653.0 302.0,653.0 302.0,653.0 303.0,653.0 303.0,653.0 304.0,653.0 304.0,653.0 305.0,653.0 305.0,654.0 306.0,654.0 306.0,654.0 307.0,654.0 307.0,653.0 308.0,653.0 308.0,653.0 309.0,653.0 309.0,654.0 310.0,654.0 310.0,654.0 311.0,654.0 311.0,654.0 312.0,654.0 312.0,654.0 313.0,654.0 313.0,654.0 314.0,654.0 314.0,654.0 315.0,654.0 315.0,654.0 316.0,654.0 316.0,655.0 317.0,655.0 317.0,655.0 318.0,655.0 318.0,655.0 319.0,655.0 319.0,655.0 320.0,655.0 320.0,655.0 321.0,655.0 321.0,655.0 322.0,655.0 322.0,656.0 323.0,656.0 323.0,655.0 324.0,655.0 324.0,656.0 325.0,656.0 325.0,655.0 326.0,655.0 326.0,656.0 327.0,656.0 327.0,656.0 328.0,656.0 328.0,656.0 329.0,656.0 329.0,656.0 330.0,656.0 330.0,656.0 331.0,656.0 331.0,657.0 332.0,657.0 332.0,658.0 333.0,658.0 333.0,658.0 334.0,658.0 334.0,658.0 335.0,658.0 335.0,658.0 336.0,658.0 336.0,659.0 337.0,659.0 337.0,659.0 338.0,659.0 338.0,660.0 339.0,660.0 339.0,661.0 340.0,661.0 340.0,661.0 341.0,661.0 341.0,662.0 342.0,662.0 342.0,663.0 343.0,663.0 343.0,663.0 343.6,663.0 343.6,663.5 343.6,667.2 343.6,667.0 343.0,667.0 343.0,667.0 342.0,667.0 342.0,668.0 341.0,668.0 341.0,668.0 340.0,668.0 340.0,669.0 339.0,669.0 339.0,669.0 338.0,669.0 338.0,669.0 337.0,669.0 337.0,670.0 336.0,670.0 336.0,670.0 335.0,670.0 335.0,670.0 334.0,670.0 334.0,671.0 333.0,671.0 333.0,671.0 332.0,671.0 332.0,672.0 331.0,672.0 331.0,672.0 330.0,672.0 330.0,672.0 329.0,672.0 329.0,672.0 328.0,672.0 328.0,672.0 327.0,672.0 327.0,672.0 326.0,672.0 326.0,673.0 325.0,673.0 325.0,672.0 324.0,672.0 324.0,673.0 323.0,673.0 323.0,673.0 322.0,673.0 322.0,673.0 321.0,673.0 321.0,673.0 320.0,673.0 320.0,673.0 319.0,673.0 319.0,673.0 318.0,673.0 318.0,673.0 317.0,673.0 317.0,674.0 316.0,674.0 316.0,674.0 315.0,674.0 315.0,674.0 314.0,674.0 314.0,674.0 313.0,674.0 313.0,674.0 312.0,674.0 312.0,674.0 311.0,674.0 311.0,674.0 310.0,674.0 310.0,674.0 309.0,674.0 309.0,674.0 308.0,674.0 308.0,674.0 307.0,674.0 307.0,674.0 306.0,674.0 306.0,675.0 305.0,675.0 305.0,675.0 304.0,675.0 304.0,675.0 303.0,675.0 303.0,675.0 302.0,675.0 302.0,675.0 301.0,675.0 301.0,675.0 300.0,675.0 300.0,675.0 299.0,675.0 299.0,676.0 298.0,676.0 298.0,676.0 297.0,676.0 297.0,675.0 296.0,675.0 296.0,676.0 295.0,676.0 295.0,676.0 294.0,676.0 294.0,676.0 293.0,676.0 293.0,676.0 292.0,676.0 292.0,676.0 291.0,676.0 291.0,677.0 290.0,677.0 290.0,677.0 289.0,677.0 289.0,677.0 288.0,677.0 288.0,677.0 287.0,677.0 287.0,677.0 286.0,677.0 286.0,677.0 285.0,677.0 285.0,678.0 284.0,678.0 284.0,678.0 283.0,678.0 283.0,678.0 282.0,678.0 282.0,678.0 281.0,678.0 281.0,678.0 280.0,678.0 280.0,678.0 279.0,678.0 279.0,679.0 278.0,679.0 278.0,678.0 277.0,678.0 277.0,679.0 276.0,679.0 276.0,679.0 275.0,679.0 275.0,679.0 274.0,679.0 274.0,679.0 273.0,679.0 273.0,679.0 272.0,679.0 272.0,680.0 271.0,680.0 271.0,679.0 270.0,679.0 270.0,680.0 269.0,680.0 269.0,680.0 268.0,680.0 268.0,680.0 267.0,680.0 267.0,680.0 266.0,680.0 266.0,680.0 265.0,680.0 265.0,681.0 264.0,681.0 264.0,681.0 263.0,681.0 263.0,681.0 262.0,681.0 262.0,681.0 261.0,681.0 261.0,681.0 260.0,681.0 260.0,682.0 259.0,682.0 259.0,682.0 258.0,682.0 258.0,682.0 257.0,682.0 257.0,682.0 256.0,682.0 256.0,682.0 255.0,682.0 255.0,682.0 254.0,682.0 254.0,682.0 253.0,682.0 253.0,683.0 252.0,683.0 252.0,683.0 251.0,683.0 251.0,683.0 250.0,683.0 250.0,683.0 249.0,683.0 249.0,683.0 248.0,683.0 248.0,684.0 247.0,684.0 247.0,684.0 246.0,684.0 246.0,684.0 245.0,684.0 245.0,685.0 244.0,685.0 244.0,684.0 243.0,684.0 243.0,685.0 242.0,685.0 242.0,685.0 241.0,685.0 241.0,685.0 240.0,685.0 240.0,686.0 239.0,686.0 239.0,686.0 238.0,686.0 238.0,686.0 237.0,686.0 237.0,686.0 236.0,686.0 236.0,686.0 235.0,686.0 235.0,687.0 234.0,687.0 234.0,688.0 233.0,688.0 233.0,688.0 232.0,688.0 232.0,688.0 231.0,688.0 231.0,688.0 230.0,688.0 230.0,688.0 229.0,688.0 229.0,689.0 228.0,689.0 228.0,689.0 227.0,689.0 227.0,689.0 226.0,689.0 226.0,690.0 225.0,690.0 225.0,690.0 224.0,690.0 224.0,690.0 223.0,690.0 223.0,691.0 222.0,691.0 222.0,691.0 221.0,691.0 221.0,692.0 220.0,692.0 220.0,692.0 219.0,692.0 219.0,692.0 218.0,692.0 218.0,693.0 217.0,693.0 217.0,693.0 216.0,693.0 216.0,693.0 215.0,693.0 215.0,693.0 214.0,693.0 214.0,694.0 213.0,694.0 213.0,694.0 212.0,694.0 212.0,695.0 211.0,695.0 211.0,694.0 210.0,694.0 210.0,695.0 209.0,695.0 209.0,695.0 208.0,695.0 208.0,696.0 207.0,696.0 207.0,696.0 206.0,696.0 206.0,697.0 205.0,697.0 205.0,698.0 204.0,698.0 204.0,698.0 203.0,698.0 203.0,699.0 202.0,699.0 202.0,699.0 201.0,699.0 201.0,700.0 200.0,700.0 200.0,700.0 199.0,700.0 199.0,700.0 198.0,700.0 198.0,700.0 197.0,700.0 197.0,701.0 196.0,701.0 196.0,702.0 195.0,702.0 195.0,702.0 194.0,702.0 194.0,702.0 193.0,702.0 193.0,702.0 192.0,702.0 192.0,703.0 191.0,703.0 191.0,704.0 190.0,704.0 190.0,704.0 189.0,704.0 189.0,705.0 188.0,705.0 188.0,706.0 187.0,706.0 187.0,708.0 186.0,708.0 186.0,710.2 183.8,710.2 181.7,714.0 181.7,719.5 180.0,720.0 180.0,738.9 176.6,738.9" fill="#ff0000" stroke="#ff0000" stroke-width="0.3"/>
<polygon points="426.4,577.0 428.7,577.0 428.7,594.4 429.8,594.4 429.8,605.0 431.5,605.0 431.5,612.3 433.4,612.3 433.4,618.9 435.8,618.9 435.8,621.0 436.8,621.0 436.8,622.0 437.8,622.0 437.8,623.0 438.8,623.0 438.8,623.0 439.8,623.0 439.8,624.0 440.8,624.0 440.8,624.0 441.8,624.0 441.8,625.0 442.8,625.0 442.8,626.0 443.8,626.0 443.8,627.0 444.8,627.0 444.8,627.0 445.8,627.0 445.8,628.0 446.8,628.0 446.8,628.0 447.8,628.0 447.8,628.0 448.8,628.0 448.8,628.0 449.8,628.0 449.8,629.0 450.8,629.0 450.8,629.0 451.8,629.0 451.8,629.0 452.8,629.0 452.8,629.0 453.8,629.0 453.8,630.0 454.8,630.0 454.8,630.0 455.8,630.0 455.8,631.0 456.8,631.0 456.8,632.0 457.8,632.0 457.8,632.0 458.8,632.0 458.8,632.0 459.8,632.0 459.8,632.0 460.8,632.0 460.8,633.0 461.8,633.0 461.8,633.0 462.8,633.0 462.8,633.0 463.8,633.0 463.8,634.0 464.8,634.0 464.8,634.0 465.8,634.0 465.8,634.0 466.8,634.0 466.8,635.0 467.8,635.0 467.8,635.0 468.9,635.0 468.9,636.0 469.9,636.0 469.9,636.0 470.9,636.0 470.9,636.0 471.9,636.0 471.9,636.0 472.9,636.0 472.9,637.0 473.9,637.0 473.9,637.0 474.9,637.0 474.9,638.0 475.9,638.0 475.9,638.0 476.9,638.0 476.9,638.0 477.9,638.0 477.9,639.0 478.9,639.0 478.9,639.0 479.9,639.0 479.9,639.0 480.9,639.0 480.9,639.0 481.9,639.0 481.9,639.0 482.9,639.0 482.9,639.0 483.9,639.0 483.9,640.0 484.9,640.0 484.9,641.0 485.9,641.0 485.9,640.0 486.9,640.0 486.9,641.0 487.9,641.0 487.9,641.0 488.9,641.0 488.9,642.0 489.9,642.0 489.9,642.0 490.9,642.0 490.9,642.0 491.9,642.0 491.9,642.0 492.9,642.0 492.9,642.0 493.9,642.0 493.9,643.0 494.9,643.0 494.9,643.0 495.9,643.0 495.9,644.0 496.9,644.0 496.9,643.0 497.9,643.0 497.9,643.0 498.9,643.0 498.9,644.0 499.9,644.0 499.9,644.0 500.9,644.0 500.9,644.0 501.9,644.0 501.9,645.0 502.9,645.0 502.9,644.0 503.9,644.0 503.9,645.0 504.9,645.0 504.9,645.0 505.9,645.0 505.9,645.0 506.9,645.0 506.9,645.0 507.9,645.0 507.9,645.0 508.9,645.0 508.9,646.0 509.9,646.0 509.9,646.0 510.9,646.0 510.9,646.0 511.9,646.0 511.9,646.0 512.9,646.0 512.9,646.0 513.9,646.0 513.9,647.0 514.9,647.0 514.9,647.0 515.9,647.0 515.9,647.0 516.9,647.0 516.9,647.0 517.9,647.0 517.9,647.0 518.9,647.0 518.9,647.0 519.9,647.0 519.9,648.0 520.9,648.0 520.9,647.0 521.9,647.0 521.9,648.0 522.9,648.0 522.9,648.0 523.9,648.0 523.9,648.0 524.9,648.0 524.9,648.0 525.9,648.0 525.9,649.0 526.9,649.0 526.9,649.0 527.9,649.0 527.9,649.0 528.9,649.0 528.9,649.0 529.9,649.0 529.9,650.0 530.9,650.0 530.9,649.0 531.9,649.0 531.9,650.0 532.9,650.0 532.9,650.0 533.9,650.0 533.9,650.0 534.9,650.0 534.9,650.0 535.9,650.0 535.9,650.0 536.9,650.0 536.9,650.0 537.9,650.0 537.9,651.0 538.9,651.0 538.9,651.0 539.9,651.0 539.9,651.0 540.9,651.0 540.9,651.0 541.9,651.0 541.9,651.0 542.9,651.0 542.9,651.0 543.9,651.0 543.9,652.0 544.9,652.0 544.9,652.0 545.9,652.0 545.9,652.0 546.9,652.0 546.9,652.0 547.9,652.0 547.9,652.0 548.9,652.0 548.9,652.0 549.9,652.0 549.9,653.0 550.9,653.0 550.9,653.0 552.0,653.0 552.0,653.0 553.0,653.0 553.0,653.0 554.0,653.0 554.0,653.0 555.0,653.0 555.0,653.0 556.0,653.0 556.0,654.0 557.0,654.0 557.0,654.0 558.0,654.0 558.0,654.0 559.0,654.0 559.0,654.0 560.0,654.0 560.0,654.0 561.0,654.0 561.0,654.0 562.0,654.0 562.0,654.0 563.0,654.0 563.0,654.0 564.0,654.0 564.0,654.0 565.0,654.0 565.0,655.0 566.0,655.0 566.0,655.0 567.0,655.0 567.0,655.0 568.0,655.0 568.0,655.0 569.0,655.0 569.0,655.0 570.0,655.0 570.0,655.0 571.0,655.0 571.0,655.0 572.0,655.0 572.0,655.0 573.0,655.0 573.0,656.0 574.0,656.0 574.0,655.0 575.0,655.0 575.0,656.0 576.0,656.0 576.0,656.0 577.0,656.0 577.0,656.0 578.0,656.0 578.0,656.0 579.0,656.0 579.0,656.0 580.0,656.0 580.0,656.0 581.0,656.0 581.0,657.0 582.0,657.0 582.0,657.0 583.0,657.0 583.0,658.0 584.0,658.0 584.0,658.0 585.0,658.0 585.0,659.0 586.0,659.0 586.0,659.0 587.0,659.0 587.0,660.0 588.0,660.0 588.0,660.0 589.0,660.0 589.0,661.0 590.0,661.0 590.0,661.0 591.0,661.0 591.0,662.0 592.0,662.0 592.0,663.0 593.0,663.0 593.0,664.0 593.6,664.0 593.6,663.5 593.6,667.2 593.6,667.0 593.0,667.0 593.0,667.0 592.0,667.0 592.0,668.0 591.0,668.0 591.0,668.0 590.0,668.0 590.0,669.0 589.0,669.0 589.0,669.0 588.0,669.0 588.0,669.0 587.0,669.0 587.0,670.0 586.0,670.0 586.0,670.0 585.0,670.0 585.0,670.0 584.0,670.0 584.0,671.0 583.0,671.0 583.0,671.0 582.0,671.0 582.0,671.0 581.0,671.0 581.0,672.0 580.0,672.0 580.0,672.0 579.0,672.0 579.0,672.0 578.0,672.0 578.0,672.0 577.0,672.0 577.0,672.0 576.0,672.0 576.0,673.0 575.0,673.0 575.0,672.0 574.0,672.0 574.0,673.0 573.0,673.0 573.0,673.0 572.0,673.0 572.0,673.0 571.0,673.0 571.0,673.0 570.0,673.0 570.0,673.0 569.0,673.0 569.0,673.0 568.0,673.0 568.0,673.0 567.0,673.0 567.0,673.0 566.0,673.0 566.0,674.0 565.0,674.0 565.0,674.0 564.0,674.0 564.0,674.0 563.0,674.0 563.0,674.0 562.0,674.0 562.0,674.0 561.0,674.0 561.0,674.0 560.0,674.0 560.0,674.0 559.0,674.0 559.0,674.0 558.0,674.0 558.0,675.0 557.0,675.0 557.0,675.0 556.0,675.0 556.0,675.0 555.0,675.0 555.0,674.0 554.0,674.0 554.0,675.0 553.0,675.0 553.0,675.0 552.0,675.0 552.0,675.0 550.9,675.0 550.9,675.0 549.9,675.0 549.9,675.0 548.9,675.0 548.9,675.0 547.9,675.0 547.9,675.0 546.9,675.0 546.9,676.0 545.9,676.0 545.9,676.0 544.9,676.0 544.9,676.0 543.9,676.0 543.9,676.0 542.9,676.0 542.9,676.0 541.9,676.0 541.9,677.0 540.9,677.0 540.9,676.0 539.9,676.0 539.9,677.0 538.9,677.0 538.9,677.0 537.9,677.0 537.9,677.0 536.9,677.0 536.9,677.0 535.9,677.0 535.9,678.0 534.9,678.0 534.9,677.0 533.9,677.0 533.9,677.0 532.9,677.0 532.9,678.0 531.9,678.0 531.9,678.0 530.9,678.0 530.9,678.0 529.9,678.0 529.9,678.0 528.9,678.0 528.9,679.0 527.9,679.0 527.9,678.0 526.9,678.0 526.9,678.0 525.9,678.0 525.9,679.0 524.9,679.0 524.9,679.0 523.9,679.0 523.9,679.0 522.9,679.0 522.9,679.0 521.9,679.0 521.9,680.0 520.9,680.0 520.9,680.0 519.9,680.0 519.9,679.0 518.9,679.0 518.9,680.0 517.9,680.0 517.9,680.0 516.9,680.0 516.9,680.0 515.9,680.0 515.9,681.0 514.9,681.0 514.9,681.0 513.9,681.0 513.9,681.0 512.9,681.0 512.9,681.0 511.9,681.0 511.9,681.0 510.9,681.0 510.9,682.0 509.9,682.0 509.9,682.0 508.9,682.0 508.9,682.0 507.9,682.0 507.9,682.0 506.9,682.0 506.9,682.0 505.9,682.0 505.9,682.0 504.9,682.0 504.9,683.0 503.9,683.0 503.9,683.0 502.9,683.0 502.9,683.0 501.9,683.0 501.9,683.0 500.9,683.0 500.9,683.0 499.9,683.0 499.9,684.0 498.9,684.0 498.9,684.0 497.9,684.0 497.9,684.0 496.9,684.0 496.9,684.0 495.9,684.0 495.9,684.0 494.9,684.0 494.9,684.0 493.9,684.0 493.9,684.0 492.9,684.0 492.9,685.0 491.9,685.0 491.9,685.0 490.9,685.0 490.9,686.0 489.9,686.0 489.9,686.0 488.9,686.0 488.9,686.0 487.9,686.0 487.9,686.0 486.9,686.0 486.9,686.0 485.9,686.0 485.9,687.0 484.9,687.0 484.9,687.0 483.9,687.0 483.9,687.0 482.9,687.0 482.9,688.0 481.9,688.0 481.9,688.0 480.9,688.0 480.9,688.0 479.9,688.0 479.9,688.0 478.9,688.0 478.9,688.0 477.9,688.0 477.9,689.0 476.9,689.0 476.9,689.0 475.9,689.0 475.9,689.0 474.9,689.0 474.9,690.0 473.9,690.0 473.9,690.0 472.9,690.0 472.9,690.0 471.9,690.0 471.9,691.0 470.9,691.0 470.9,692.0 469.9,692.0 469.9,692.0 468.9,692.0 468.9,692.0 467.8,692.0 467.8,692.0 466.8,692.0 466.8,693.0 465.8,693.0 465.8,693.0 464.8,693.0 464.8,693.0 463.8,693.0 463.8,694.0 462.8,694.0 462.8,694.0 461.8,694.0 461.8,694.0 460.8,694.0 460.8,695.0 459.8,695.0 459.8,695.0 458.8,695.0 458.8,695.0 457.8,695.0 457.8,696.0 456.8,696.0 456.8,696.0 455.8,696.0 455.8,697.0 454.8,697.0 454.8,698.0 453.8,698.0 453.8,698.0 452.8,698.0 452.8,698.0 451.8,698.0 451.8,699.0 450.8,699.0 450.8,700.0 449.8,700.0 449.8,700.0 448.8,700.0 448.8,700.0 447.8,700.0 447.8,700.0 446.8,700.0 446.8,701.0 445.8,701.0 445.8,701.0 444.8,701.0 444.8,702.0 443.8,702.0 443.8,702.0 442.8,702.0 442.8,703.0 441.8,703.0 441.8,703.0 440.8,703.0 440.8,703.0 439.8,703.0 439.8,704.0 438.8,704.0 438.8,705.0 437.8,705.0 437.8,706.0 436.8,706.0 436.8,707.0 435.8,707.0 435.8,710.2 433.6,710.2 431.5,714.0 431.5,719.5 429.8,720.0 429.8,738.9 426.4,738.9" fill="#ff0000" stroke="#ff0000" stroke-width="0.3"/>
<polygon points="677.8,577.0 680.1,577.0 680.1,594.4 681.2,594.4 681.2,605.0 682.9,605.0 682.9,612.3 684.8,612.3 684.8,618.9 687.2,618.9 687.2,621.0 688.2,621.0 688.2,621.0 689.2,621.0 689.2,622.0 690.2,622.0 690.2,623.0 691.2,623.0 691.2,624.0 692.2,624.0 692.2,625.0 693.2,625.0 693.2,625.0 694.2,625.0 694.2,626.0 695.2,626.0 695.2,627.0 696.2,627.0 696.2,627.0 697.2,627.0 697.2,627.0 698.2,627.0 698.2,628.0 699.2,628.0 699.2,628.0 700.2,628.0 700.2,628.0 701.2,628.0 701.2,629.0 702.2,629.0 702.2,629.0 703.2,629.0 703.2,629.0 704.2,629.0 704.2,629.0 705.2,629.0 705.2,630.0 706.1,630.0 706.1,630.0 707.1,630.0 707.1,631.0 708.1,631.0 708.1,631.0 709.1,631.0 709.1,632.0 710.1,632.0 710.1,632.0 711.1,632.0 711.1,632.0 712.1,632.0 712.1,633.0 713.1,633.0 713.1,633.0 714.1,633.0 714.1,634.0 715.1,634.0 715.1,633.0 716.1,633.0 716.1,634.0 717.1,634.0 717.1,634.0 718.1,634.0 718.1,635.0 719.1,635.0 719.1,635.0 720.1,635.0 720.1,635.0 721.1,635.0 721.1,636.0 722.1,636.0 722.1,636.0 723.1,636.0 723.1,637.0 724.1,637.0 724.1,637.0 725.1,637.0 725.1,638.0 726.1,638.0 726.1,637.0 727.1,637.0 727.1,638.0 728.1,638.0 728.1,638.0 729.1,638.0 729.1,639.0 730.1,639.0 730.1,639.0 731.1,639.0 731.1,639.0 732.1,639.0 732.1,640.0 733.1,640.0 733.1,640.0 734.1,640.0 734.1,640.0 735.1,640.0 735.1,640.0 736.1,640.0 736.1,640.0 737.1,640.0 737.1,640.0 738.1,640.0 738.1,641.0 739.1,641.0 739.1,641.0 740.1,641.0 740.1,641.0 741.1,641.0 741.1,642.0 742.1,642.0 742.1,642.0 743.1,642.0 743.1,642.0 744.1,642.0 744.1,642.0 745.1,642.0 745.1,643.0 746.1,643.0 746.1,643.0 747.1,643.0 747.1,643.0 748.1,643.0 748.1,643.0 749.1,643.0 749.1,644.0 750.1,644.0 750.1,644.0 751.1,644.0 751.1,644.0 752.1,644.0 752.1,644.0 753.1,644.0 753.1,644.0 754.1,644.0 754.1,645.0 755.1,645.0 755.1,645.0 756.1,645.0 756.1,644.0 757.1,644.0 757.1,645.0 758.1,645.0 758.1,645.0 759.1,645.0 759.1,646.0 760.1,646.0 760.1,645.0 761.1,645.0 761.1,646.0 762.0,646.0 762.0,646.0 763.0,646.0 763.0,646.0 764.0,646.0 764.0,646.0 765.0,646.0 765.0,647.0 766.0,647.0 766.0,647.0 767.0,647.0 767.0,647.0 768.0,647.0 768.0,647.0 769.0,647.0 769.0,647.0 770.0,647.0 770.0,648.0 771.0,648.0 771.0,647.0 772.0,647.0 772.0,648.0 773.0,648.0 773.0,648.0 774.0,648.0 774.0,648.0 775.0,648.0 775.0,648.0 776.0,648.0 776.0,648.0 777.0,648.0 777.0,649.0 778.0,649.0 778.0,649.0 779.0,649.0 779.0,649.0 780.0,649.0 780.0,649.0 781.0,649.0 781.0,650.0 782.0,650.0 782.0,650.0 783.0,650.0 783.0,650.0 784.0,650.0 784.0,649.0 785.0,649.0 785.0,650.0 786.0,650.0 786.0,650.0 787.0,650.0 787.0,650.0 788.0,650.0 788.0,650.0 789.0,650.0 789.0,651.0 790.0,651.0 790.0,651.0 791.0,651.0 791.0,651.0 792.0,651.0 792.0,651.0 793.0,651.0 793.0,651.0 794.0,651.0 794.0,652.0 795.0,652.0 795.0,652.0 796.0,652.0 796.0,652.0 797.0,652.0 797.0,652.0 798.0,652.0 798.0,652.0 799.0,652.0 799.0,653.0 800.0,653.0 800.0,653.0 801.0,653.0 801.0,653.0 802.0,653.0 802.0,653.0 803.0,653.0 803.0,653.0 804.0,653.0 804.0,653.0 805.0,653.0 805.0,653.0 806.0,653.0 806.0,653.0 807.0,653.0 807.0,654.0 808.0,654.0 808.0,653.0 809.0,653.0 809.0,654.0 810.0,654.0 810.0,653.0 811.0,653.0 811.0,654.0 812.0,654.0 812.0,654.0 813.0,654.0 813.0,654.0 814.0,654.0 814.0,654.0 815.0,654.0 815.0,654.0 816.0,654.0 816.0,654.0 816.9,654.0 816.9,655.0 817.9,655.0 817.9,655.0 818.9,655.0 818.9,654.0 819.9,654.0 819.9,655.0 820.9,655.0 820.9,655.0 821.9,655.0 821.9,655.0 822.9,655.0 822.9,655.0 823.9,655.0 823.9,655.0 824.9,655.0 824.9,655.0 825.9,655.0 825.9,656.0 826.9,656.0 826.9,656.0 827.9,656.0 827.9,656.0 828.9,656.0 828.9,655.0 829.9,655.0 829.9,656.0 830.9,656.0 830.9,656.0 831.9,656.0 831.9,656.0 832.9,656.0 832.9,657.0 833.9,657.0 833.9,658.0 834.9,658.0 834.9,658.0 835.9,658.0 835.9,659.0 836.9,659.0 836.9,659.0 837.9,659.0 837.9,660.0 838.9,660.0 838.9,660.0 839.9,660.0 839.9,661.0 840.9,661.0 840.9,661.0 841.9,661.0 841.9,662.0 842.9,662.0 842.9,663.0 843.9,663.0 843.9,663.0 844.5,663.0 844.5,663.5 844.5,667.2 844.5,667.0 843.9,667.0 843.9,668.0 842.9,668.0 842.9,668.0 841.9,668.0 841.9,669.0 840.9,669.0 840.9,668.0 839.9,668.0 839.9,669.0 838.9,669.0 838.9,670.0 837.9,670.0 837.9,669.0 836.9,669.0 836.9,670.0 835.9,670.0 835.9,671.0 834.9,671.0 834.9,671.0 833.9,671.0 833.9,671.0 832.9,671.0 832.9,671.0 831.9,671.0 831.9,672.0 830.9,672.0 830.9,672.0 829.9,672.0 829.9,672.0 828.9,672.0 828.9,672.0 827.9,672.0 827.9,672.0 826.9,672.0 826.9,673.0 825.9,673.0 825.9,672.0 824.9,672.0 824.9,673.0 823.9,673.0 823.9,672.0 822.9,672.0 822.9,673.0 821.9,673.0 821.9,673.0 820.9,673.0 820.9,673.0 819.9,673.0 819.9,673.0 818.9,673.0 818.9,673.0 817.9,673.0 817.9,673.0 816.9,673.0 816.9,674.0 816.0,674.0 816.0,674.0 815.0,674.0 815.0,674.0 814.0,674.0 814.0,674.0 813.0,674.0 813.0,674.0 812.0,674.0 812.0,674.0 811.0,674.0 811.0,674.0 810.0,674.0 810.0,674.0 809.0,674.0 809.0,674.0 808.0,674.0 808.0,674.0 807.0,674.0 807.0,675.0 806.0,675.0 806.0,675.0 805.0,675.0 805.0,674.0 804.0,674.0 804.0,675.0 803.0,675.0 803.0,675.0 802.0,675.0 802.0,675.0 801.0,675.0 801.0,676.0 800.0,676.0 800.0,675.0 799.0,675.0 799.0,675.0 798.0,675.0 798.0,676.0 797.0,676.0 797.0,676.0 796.0,676.0 796.0,676.0 795.0,676.0 795.0,676.0 794.0,676.0 794.0,676.0 793.0,676.0 793.0,676.0 792.0,676.0 792.0,677.0 791.0,677.0 791.0,677.0 790.0,677.0 790.0,677.0 789.0,677.0 789.0,677.0 788.0,677.0 788.0,677.0 787.0,677.0 787.0,677.0 786.0,677.0 786.0,677.0 785.0,677.0 785.0,677.0 784.0,677.0 784.0,678.0 783.0,678.0 783.0,678.0 782.0,678.0 782.0,678.0 781.0,678.0 781.0,678.0 780.0,678.0 780.0,678.0 779.0,678.0 779.0,679.0 778.0,679.0 778.0,679.0 777.0,679.0 777.0,679.0 776.0,679.0 776.0,679.0 775.0,679.0 775.0,679.0 774.0,679.0 774.0,680.0 773.0,680.0 773.0,679.0 772.0,679.0 772.0,679.0 771.0,679.0 771.0,680.0 770.0,680.0 770.0,680.0 769.0,680.0 769.0,680.0 768.0,680.0 768.0,680.0 767.0,680.0 767.0,681.0 766.0,681.0 766.0,680.0 765.0,680.0 765.0,681.0 764.0,681.0 764.0,681.0 763.0,681.0 763.0,682.0 762.0,682.0 762.0,682.0 761.1,682.0 761.1,682.0 760.1,682.0 760.1,682.0 759.1,682.0 759.1,682.0 758.1,682.0 758.1,682.0 757.1,682.0 757.1,682.0 756.1,682.0 756.1,683.0 755.1,683.0 755.1,683.0 754.1,683.0 754.1,683.0 753.1,683.0 753.1,683.0 752.1,683.0 752.1,683.0 751.1,683.0 751.1,683.0 750.1,683.0 750.1,684.0 749.1,684.0 749.1,683.0 748.1,683.0 748.1,684.0 747.1,684.0 747.1,684.0 746.1,684.0 746.1,684.0 745.1,684.0 745.1,685.0 744.1,685.0 744.1,685.0 743.1,685.0 743.1,685.0 742.1,685.0 742.1,686.0 741.1,686.0 741.1,686.0 740.1,686.0 740.1,686.0 739.1,686.0 739.1,686.0 738.1,686.0 738.1,687.0 737.1,687.0 737.1,687.0 736.1,687.0 736.1,687.0 735.1,687.0 735.1,687.0 734.1,687.0 734.1,688.0 733.1,688.0 733.1,688.0 732.1,688.0 732.1,688.0 731.1,688.0 731.1,688.0 730.1,688.0 730.1,689.0 729.1,689.0 729.1,689.0 728.1,689.0 728.1,690.0 727.1,690.0 727.1,690.0 726.1,690.0 726.1,690.0 725.1,690.0 725.1,691.0 724.1,691.0 724.1,690.0 723.1,690.0 723.1,691.0 722.1,691.0 722.1,691.0 721.1,691.0 721.1,691.0 720.1,691.0 720.1,692.0 719.1,692.0 719.1,692.0 718.1,692.0 718.1,693.0 717.1,693.0 717.1,693.0 716.1,693.0 716.1,694.0 715.1,694.0 715.1,694.0 714.1,694.0 714.1,694.0 713.1,694.0 713.1,695.0 712.1,695.0 712.1,694.0 711.1,694.0 711.1,695.0 710.1,695.0 710.1,695.0 709.1,695.0 709.1,696.0 708.1,696.0 708.1,696.0 707.1,696.0 707.1,697.0 706.1,697.0 706.1,698.0 705.2,698.0 705.2,698.0 704.2,698.0 704.2,699.0 703.2,699.0 703.2,699.0 702.2,699.0 702.2,700.0 701.2,700.0 701.2,700.0 700.2,700.0 700.2,701.0 699.2,701.0 699.2,700.0 698.2,700.0 698.2,701.0 697.2,701.0 697.2,702.0 696.2,702.0 696.2,702.0 695.2,702.0 695.2,702.0 694.2,702.0 694.2,703.0 693.2,703.0 693.2,703.0 692.2,703.0 692.2,703.0 691.2,703.0 691.2,704.0 690.2,704.0 690.2,705.0 689.2,705.0 689.2,706.0 688.2,706.0 688.2,707.0 687.2,707.0 687.2,710.2 685.0,710.2 682.9,714.0 682.9,719.5 681.2,720.0 681.2,738.9 677.8,738.9" fill="#ff0000" stroke="#ff0000" stroke-width="0.3"/>
<path d="M97.7,881.8 L100.7,880.4 L160.5,880.4 L162.0,878.6 L177.3,878.6 L177.3,577.6 M343.2,665.6 L343.8,690.4 L345.5,690.8 L345.8,725.7 L347.3,726.0 L347.3,881.8 L349.8,880.6 L411.3,880.6 L412.8,878.6 L427.1,878.6 L427.1,577.6 M593.2,665.6 L593.8,690.4 L595.5,690.8 L595.8,725.7 L598.5,726.0 L598.5,881.8 L601.0,880.6 L662.5,880.6 L664.0,878.6 L678.5,878.6 L678.5,577.6 M844.1,665.6 L844.9,670.0 L844.9,693.9 L847.0,693.9 L847.0,724.0" fill="none" stroke="#ff0000" stroke-width="2.0"/>
</g>
<rect x="97.7" y="562.0" width="750.6999999999999" height="342.1" fill="none" stroke="#1c1c1c" stroke-width="1.9"/>
<line x1="98.60000000000001" y1="562.0" x2="847.5" y2="562.0" stroke="#fff" stroke-width="2.6"/>
<line x1="97.7" y1="562.0" x2="848.4" y2="562.0" stroke="#8a8a8a" stroke-width="1.5"/>
<line x1="97.7" y1="562.0" x2="848.4" y2="562.0" stroke="#1c1c1c" stroke-width="2.0" stroke-dasharray="5.7 4.707" stroke-dashoffset="6.8"/>
<line x1="98.60000000000001" y1="904.1" x2="847.5" y2="904.1" stroke="#fff" stroke-width="2.6"/>
<line x1="97.7" y1="904.1" x2="848.4" y2="904.1" stroke="#8a8a8a" stroke-width="1.5"/>
<line x1="97.7" y1="904.1" x2="848.4" y2="904.1" stroke="#1c1c1c" stroke-width="2.0" stroke-dasharray="5.7 4.707" stroke-dashoffset="6.8"/>
<line x1="848.4" y1="724" x2="848.4" y2="732.7" stroke="#ff0000" stroke-width="1.9"/>
<text x="73.6" y="570.4" text-anchor="end" font-size="20" font-family="Liberation Sans, Arial, sans-serif" fill="#1a1a1a" stroke="#1a1a1a" stroke-width="0.25">30.00</text>
<text x="73.6" y="613.7" text-anchor="end" font-size="20" font-family="Liberation Sans, Arial, sans-serif" fill="#1a1a1a" stroke="#1a1a1a" stroke-width="0.25">22.50</text>
<text x="73.6" y="656.9" text-anchor="end" font-size="20" font-family="Liberation Sans, Arial, sans-serif" fill="#1a1a1a" stroke="#1a1a1a" stroke-width="0.25">15.00</text>
<text x="73.6" y="699.9" text-anchor="end" font-size="20" font-family="Liberation Sans, Arial, sans-serif" fill="#1a1a1a" stroke="#1a1a1a" stroke-width="0.25">7.50</text>
<text x="73.6" y="741.8" text-anchor="end" font-size="20" font-family="Liberation Sans, Arial, sans-serif" fill="#1a1a1a" stroke="#1a1a1a" stroke-width="0.25">0.0</text>
<text x="73.6" y="784.8" text-anchor="end" font-size="20" font-family="Liberation Sans, Arial, sans-serif" fill="#1a1a1a" stroke="#1a1a1a" stroke-width="0.25">-7.50</text>
<text x="73.6" y="828.0" text-anchor="end" font-size="20" font-family="Liberation Sans, Arial, sans-serif" fill="#1a1a1a" stroke="#1a1a1a" stroke-width="0.25">-15.00</text>
<text x="73.6" y="871.3" text-anchor="end" font-size="20" font-family="Liberation Sans, Arial, sans-serif" fill="#1a1a1a" stroke="#1a1a1a" stroke-width="0.25">-22.50</text>
<text x="73.6" y="912.5" text-anchor="end" font-size="20" font-family="Liberation Sans, Arial, sans-serif" fill="#1a1a1a" stroke="#1a1a1a" stroke-width="0.25">-30.00</text>
<text x="96.3" y="550.2" text-anchor="start" font-size="20" textLength="45.6" lengthAdjust="spacingAndGlyphs" font-family="Liberation Sans, Arial, sans-serif" fill="#ff2b2b" stroke="#ff2b2b" stroke-width="0.25">Vaux</text>
<line x1="97.7" y1="1018.1" x2="848.4" y2="1018.1" stroke="#787878" stroke-width="1.8" stroke-dasharray="5.3 5.107" stroke-dashoffset="1.0"/>
<line x1="97.7" y1="1078.7" x2="848.4" y2="1078.7" stroke="#787878" stroke-width="1.8" stroke-dasharray="5.3 5.107" stroke-dashoffset="1.0"/>
<line x1="97.7" y1="1139.5" x2="848.4" y2="1139.5" stroke="#787878" stroke-width="1.8" stroke-dasharray="5.3 5.107" stroke-dashoffset="1.0"/>
<line x1="97.7" y1="1200.4" x2="848.4" y2="1200.4" stroke="#787878" stroke-width="1.8" stroke-dasharray="5.3 5.107" stroke-dashoffset="1.0"/>
<line x1="301.9" y1="956.9" x2="301.9" y2="1227.6" stroke="#787878" stroke-width="1.8" stroke-dasharray="4.4 5.175" stroke-dashoffset="9.075"/>
<line x1="532.8" y1="956.9" x2="532.8" y2="1227.6" stroke="#787878" stroke-width="1.8" stroke-dasharray="4.4 5.175" stroke-dashoffset="9.075"/>
<line x1="763.6" y1="956.9" x2="763.6" y2="1227.6" stroke="#787878" stroke-width="1.8" stroke-dasharray="4.4 5.175" stroke-dashoffset="9.075"/>
<rect x="97.7" y="956.9" width="750.6999999999999" height="270.69999999999993" fill="none" stroke="#1c1c1c" stroke-width="1.9"/>
<line x1="98.60000000000001" y1="956.9" x2="847.5" y2="956.9" stroke="#fff" stroke-width="2.6"/>
<line x1="97.7" y1="956.9" x2="848.4" y2="956.9" stroke="#8a8a8a" stroke-width="1.5"/>
<line x1="97.7" y1="956.9" x2="848.4" y2="956.9" stroke="#1c1c1c" stroke-width="2.0" stroke-dasharray="5.7 4.707" stroke-dashoffset="6.8"/>
<clipPath id="c3"><rect x="97.7" y="956.9" width="750.6999999999999" height="270.69999999999993"/></clipPath>
<polyline clip-path="url(#c3)" points="97.7,1200.4 177.2,1018.3 177.2,1200.4 346.7,1200.4 427.0,1018.3 427.0,1200.4 597.6,1200.4 678.4,1018.3 678.4,1200.4 848.4,1200.4" fill="none" stroke="#ff0000" stroke-width="2.0"/>
<text x="73.6" y="965.3" text-anchor="end" font-size="20" font-family="Liberation Sans, Arial, sans-serif" fill="#1a1a1a" stroke="#1a1a1a" stroke-width="0.25">1.00</text>
<text x="73.6" y="1026.5" text-anchor="end" font-size="20" font-family="Liberation Sans, Arial, sans-serif" fill="#1a1a1a" stroke="#1a1a1a" stroke-width="0.25">0.75</text>
<text x="73.6" y="1087.1" text-anchor="end" font-size="20" font-family="Liberation Sans, Arial, sans-serif" fill="#1a1a1a" stroke="#1a1a1a" stroke-width="0.25">0.50</text>
<text x="73.6" y="1147.9" text-anchor="end" font-size="20" font-family="Liberation Sans, Arial, sans-serif" fill="#1a1a1a" stroke="#1a1a1a" stroke-width="0.25">0.25</text>
<text x="73.6" y="1208.8" text-anchor="end" font-size="20" font-family="Liberation Sans, Arial, sans-serif" fill="#1a1a1a" stroke="#1a1a1a" stroke-width="0.25">0.0</text>
<text x="96.3" y="943.4" text-anchor="start" font-size="20" textLength="33.6" lengthAdjust="spacingAndGlyphs" font-family="Liberation Sans, Arial, sans-serif" fill="#ff2b2b" stroke="#ff2b2b" stroke-width="0.25">Vcs</text>
<line x1="176.3" y1="92.1" x2="176.3" y2="1264" stroke="#000" stroke-width="2.6" stroke-linecap="round" stroke-dasharray="18.0 13.2"/>
<line x1="226.8" y1="92.1" x2="226.8" y2="921" stroke="#000" stroke-width="2.6" stroke-linecap="round" stroke-dasharray="18.0 13.2"/>
<line x1="343.8" y1="92.1" x2="343.8" y2="1264" stroke="#000" stroke-width="2.6" stroke-linecap="round" stroke-dasharray="18.0 13.2"/>
<polyline points="175.7,73 175.7,38.3 226.6,38.3 226.6,73" fill="none" stroke="#111" stroke-width="1.3"/>
<line x1="175.7" y1="60.0" x2="175.7" y2="73.3" stroke="#000" stroke-width="1.3" stroke-linecap="round"/>
<polygon points="175.7,82.8 170.2,72.3 181.2,72.3" fill="#000"/>
<line x1="226.6" y1="60.0" x2="226.6" y2="73.3" stroke="#000" stroke-width="1.3" stroke-linecap="round"/>
<polygon points="226.6,82.8 221.1,72.3 232.1,72.3" fill="#000"/>
<line x1="313.0" y1="64.0" x2="277.0" y2="145.8" stroke="#000" stroke-width="1.3" stroke-linecap="round"/>
<polygon points="273.0,155.0 272.8,142.9 282.0,146.9" fill="#000"/>
<line x1="258.6" y1="536.6" x2="237.9" y2="536.6" stroke="#000" stroke-width="1.8" stroke-linecap="round"/>
<polygon points="227.4,536.6 238.9,530.6 238.9,542.6" fill="#000"/>
<line x1="312.0" y1="536.6" x2="331.9" y2="536.6" stroke="#000" stroke-width="1.8" stroke-linecap="round"/>
<polygon points="342.4,536.6 330.9,542.6 330.9,530.6" fill="#000"/>
<line x1="239.0" y1="1255.5" x2="187.7" y2="1255.5" stroke="#000" stroke-width="1.8" stroke-linecap="round"/>
<polygon points="177.2,1255.5 188.7,1249.5 188.7,1261.5" fill="#000"/>
<line x1="270.0" y1="1255.5" x2="332.1" y2="1255.5" stroke="#000" stroke-width="1.8" stroke-linecap="round"/>
<polygon points="342.6,1255.5 331.1,1261.5 331.1,1249.5" fill="#000"/>
<line x1="391.0" y1="552.2" x2="306.4" y2="629.3" stroke="#000" stroke-width="2.7" stroke-linecap="round"/>
<polygon points="297.2,637.6 302.7,623.7 311.6,633.5" fill="#000"/>
<line x1="546.9" y1="551.9" x2="506.0" y2="627.1" stroke="#000" stroke-width="2.7" stroke-linecap="round"/>
<polygon points="500.1,638.0 500.7,623.1 512.3,629.4" fill="#000"/>
<line x1="718.1" y1="551.9" x2="745.2" y2="626.1" stroke="#000" stroke-width="2.7" stroke-linecap="round"/>
<polygon points="749.4,637.8 738.6,627.5 751.0,623.0" fill="#000"/>
<line x1="380.6" y1="935.5" x2="192.8" y2="747.6" stroke="#000" stroke-width="2.7" stroke-linecap="round"/>
<polygon points="184.0,738.8 198.1,743.6 188.8,752.9" fill="#000"/>
<line x1="496.2" y1="919.4" x2="437.8" y2="758.6" stroke="#000" stroke-width="2.7" stroke-linecap="round"/>
<polygon points="433.6,746.9 444.4,757.2 432.0,761.7" fill="#000"/>
<line x1="749.9" y1="916.1" x2="689.6" y2="755.4" stroke="#000" stroke-width="2.7" stroke-linecap="round"/>
<polygon points="685.2,743.8 696.1,754.0 683.7,758.7" fill="#000"/>
<text x="145.2" y="25.3" textLength="10.6" lengthAdjust="spacingAndGlyphs" font-size="16.9" font-family="Liberation Sans, Arial, sans-serif" font-weight="bold" fill="#000" stroke="#000" stroke-width="0.4">T</text>
<text x="156.4" y="28.4" textLength="53.0" lengthAdjust="spacingAndGlyphs" font-size="12.1" font-family="Liberation Sans, Arial, sans-serif" font-weight="bold" fill="#000" stroke="#000" stroke-width="0.1">LK_RESET</text>
<text x="212.0" y="25.3" textLength="10.6" lengthAdjust="spacingAndGlyphs" font-size="16.9" font-family="Liberation Sans, Arial, sans-serif" font-weight="bold" fill="#000" stroke="#000" stroke-width="0.4">=</text>
<text x="226.5" y="25.3" textLength="33.9" lengthAdjust="spacingAndGlyphs" font-size="16.9" font-family="Liberation Sans, Arial, sans-serif" font-weight="bold" fill="#000" stroke="#000" stroke-width="0.4">3µS</text>
<text x="285.7" y="33.7" textLength="37.3" lengthAdjust="spacingAndGlyphs" font-size="16.9" font-family="Liberation Sans, Arial, sans-serif" font-weight="bold" fill="#000" stroke="#000" stroke-width="0.4">OVP</text>
<text x="328.1" y="33.7" textLength="84.9" lengthAdjust="spacingAndGlyphs" font-size="16.9" font-family="Liberation Sans, Arial, sans-serif" font-weight="bold" fill="#000" stroke="#000" stroke-width="0.4">Detection</text>
<text x="417.9" y="33.7" textLength="42.9" lengthAdjust="spacingAndGlyphs" font-size="16.9" font-family="Liberation Sans, Arial, sans-serif" font-weight="bold" fill="#000" stroke="#000" stroke-width="0.4">After</text>
<text x="467.2" y="33.7" textLength="10.2" lengthAdjust="spacingAndGlyphs" font-size="16.9" font-family="Liberation Sans, Arial, sans-serif" font-weight="bold" fill="#000" stroke="#000" stroke-width="0.4">T</text>
<text x="477.3" y="36.6" textLength="52.3" lengthAdjust="spacingAndGlyphs" font-size="12.1" font-family="Liberation Sans, Arial, sans-serif" font-weight="bold" fill="#000" stroke="#000" stroke-width="0.1">LK_RESET</text>
<text x="535.1" y="33.7" textLength="29.9" lengthAdjust="spacingAndGlyphs" font-size="16.9" font-family="Liberation Sans, Arial, sans-serif" font-weight="bold" fill="#000" stroke="#000" stroke-width="0.4">has</text>
<text x="568.7" y="33.7" textLength="53.9" lengthAdjust="spacingAndGlyphs" font-size="16.9" font-family="Liberation Sans, Arial, sans-serif" font-weight="bold" fill="#000" stroke="#000" stroke-width="0.4">Timed</text>
<text x="627.7" y="33.7" textLength="32.3" lengthAdjust="spacingAndGlyphs" font-size="16.9" font-family="Liberation Sans, Arial, sans-serif" font-weight="bold" fill="#000" stroke="#000" stroke-width="0.4">Out</text>
<text x="665.6" y="33.7" textLength="17.0" lengthAdjust="spacingAndGlyphs" font-size="16.9" font-family="Liberation Sans, Arial, sans-serif" font-weight="bold" fill="#000" stroke="#000" stroke-width="0.4">to</text>
<text x="687.9" y="33.7" textLength="28.5" lengthAdjust="spacingAndGlyphs" font-size="16.9" font-family="Liberation Sans, Arial, sans-serif" font-weight="bold" fill="#000" stroke="#000" stroke-width="0.4">the</text>
<text x="720.9" y="33.7" textLength="33.5" lengthAdjust="spacingAndGlyphs" font-size="16.9" font-family="Liberation Sans, Arial, sans-serif" font-weight="bold" fill="#000" stroke="#000" stroke-width="0.4">end</text>
<text x="759.8" y="33.7" textLength="17.8" lengthAdjust="spacingAndGlyphs" font-size="16.9" font-family="Liberation Sans, Arial, sans-serif" font-weight="bold" fill="#000" stroke="#000" stroke-width="0.4">of</text>
<text x="782.0" y="33.7" textLength="7.0" lengthAdjust="spacingAndGlyphs" font-size="16.9" font-family="Liberation Sans, Arial, sans-serif" font-weight="bold" fill="#000" stroke="#000" stroke-width="0.4">t</text>
<text x="788.9" y="36.6" textLength="38.9" lengthAdjust="spacingAndGlyphs" font-size="12.1" font-family="Liberation Sans, Arial, sans-serif" font-weight="bold" fill="#000" stroke="#000" stroke-width="0.1">DMAG</text>
<text x="829.2" y="33.7" textLength="10.8" lengthAdjust="spacingAndGlyphs" font-size="16.9" font-family="Liberation Sans, Arial, sans-serif" font-weight="bold" fill="#000" stroke="#000" stroke-width="0.4">=</text>
<text x="844.4" y="33.7" textLength="7.0" lengthAdjust="spacingAndGlyphs" font-size="16.9" font-family="Liberation Sans, Arial, sans-serif" font-weight="bold" fill="#000" stroke="#000" stroke-width="0.4">t</text>
<text x="851.2" y="36.6" textLength="24.6" lengthAdjust="spacingAndGlyphs" font-size="12.1" font-family="Liberation Sans, Arial, sans-serif" font-weight="bold" fill="#000" stroke="#000" stroke-width="0.1">OVP</text>
<text x="266.6" y="540.8" textLength="7.0" lengthAdjust="spacingAndGlyphs" font-size="16.9" font-family="Liberation Sans, Arial, sans-serif" font-weight="bold" fill="#000" stroke="#000" stroke-width="0.4">t</text>
<text x="273.3" y="543.7" textLength="24.7" lengthAdjust="spacingAndGlyphs" font-size="12.1" font-family="Liberation Sans, Arial, sans-serif" font-weight="bold" fill="#000" stroke="#000" stroke-width="0.1">OVP</text>
<text x="382.0" y="540.2" textLength="12.0" lengthAdjust="spacingAndGlyphs" font-size="16.9" font-family="Liberation Sans, Arial, sans-serif" font-weight="bold" fill="#000" stroke="#000" stroke-width="0.4">V</text>
<text x="393.1" y="543.4" textLength="26.4" lengthAdjust="spacingAndGlyphs" font-size="12.1" font-family="Liberation Sans, Arial, sans-serif" font-weight="bold" fill="#000" stroke="#000" stroke-width="0.1">AUX</text>
<text x="423.1" y="540.2" textLength="64.1" lengthAdjust="spacingAndGlyphs" font-size="16.9" font-family="Liberation Sans, Arial, sans-serif" font-weight="bold" fill="#000" stroke="#000" stroke-width="0.4">Ringing</text>
<text x="491.7" y="540.2" textLength="60.5" lengthAdjust="spacingAndGlyphs" font-size="16.9" font-family="Liberation Sans, Arial, sans-serif" font-weight="bold" fill="#000" stroke="#000" stroke-width="0.4">Caused</text>
<text x="558.7" y="540.2" textLength="35.9" lengthAdjust="spacingAndGlyphs" font-size="16.9" font-family="Liberation Sans, Arial, sans-serif" font-weight="bold" fill="#000" stroke="#000" stroke-width="0.4">OVP</text>
<text x="601.1" y="540.2" textLength="47.1" lengthAdjust="spacingAndGlyphs" font-size="16.9" font-family="Liberation Sans, Arial, sans-serif" font-weight="bold" fill="#000" stroke="#000" stroke-width="0.4">Fault,</text>
<text x="653.4" y="540.2" textLength="13.0" lengthAdjust="spacingAndGlyphs" font-size="16.9" font-family="Liberation Sans, Arial, sans-serif" font-weight="bold" fill="#000" stroke="#000" stroke-width="0.4">V</text>
<text x="665.9" y="543.4" textLength="26.2" lengthAdjust="spacingAndGlyphs" font-size="12.1" font-family="Liberation Sans, Arial, sans-serif" font-weight="bold" fill="#000" stroke="#000" stroke-width="0.1">AUX</text>
<text x="695.4" y="540.2" textLength="10.2" lengthAdjust="spacingAndGlyphs" font-size="16.9" font-family="Liberation Sans, Arial, sans-serif" font-weight="bold" fill="#000" stroke="#000" stroke-width="0.4">&gt;</text>
<text x="711.9" y="540.2" textLength="48.7" lengthAdjust="spacingAndGlyphs" font-size="16.9" font-family="Liberation Sans, Arial, sans-serif" font-weight="bold" fill="#000" stroke="#000" stroke-width="0.4">13.6V</text>
<text x="398.0" y="938.3" textLength="11.8" lengthAdjust="spacingAndGlyphs" font-size="16.9" font-family="Liberation Sans, Arial, sans-serif" font-weight="bold" fill="#000" stroke="#000" stroke-width="0.4">V</text>
<text x="408.9" y="941.5" textLength="26.1" lengthAdjust="spacingAndGlyphs" font-size="12.1" font-family="Liberation Sans, Arial, sans-serif" font-weight="bold" fill="#000" stroke="#000" stroke-width="0.1">AUX</text>
<text x="438.1" y="938.3" textLength="64.3" lengthAdjust="spacingAndGlyphs" font-size="16.9" font-family="Liberation Sans, Arial, sans-serif" font-weight="bold" fill="#000" stroke="#000" stroke-width="0.4">Ringing</text>
<text x="507.3" y="938.3" textLength="52.5" lengthAdjust="spacingAndGlyphs" font-size="16.9" font-family="Liberation Sans, Arial, sans-serif" font-weight="bold" fill="#000" stroke="#000" stroke-width="0.4">Below</text>
<text x="565.1" y="938.3" textLength="64.5" lengthAdjust="spacingAndGlyphs" font-size="16.9" font-family="Liberation Sans, Arial, sans-serif" font-weight="bold" fill="#000" stroke="#000" stroke-width="0.4">Ground</text>
<text x="634.9" y="938.3" textLength="32.7" lengthAdjust="spacingAndGlyphs" font-size="16.9" font-family="Liberation Sans, Arial, sans-serif" font-weight="bold" fill="#000" stroke="#000" stroke-width="0.4">Can</text>
<text x="672.7" y="938.3" textLength="32.7" lengthAdjust="spacingAndGlyphs" font-size="16.9" font-family="Liberation Sans, Arial, sans-serif" font-weight="bold" fill="#000" stroke="#000" stroke-width="0.4">Trip</text>
<text x="710.9" y="938.3" textLength="49.1" lengthAdjust="spacingAndGlyphs" font-size="16.9" font-family="Liberation Sans, Arial, sans-serif" font-weight="bold" fill="#000" stroke="#000" stroke-width="0.4">UVLO</text>
<text x="113.6" y="1254.5" textLength="7.0" lengthAdjust="spacingAndGlyphs" font-size="16.9" font-family="Liberation Sans, Arial, sans-serif" font-weight="bold" fill="#000" stroke="#000" stroke-width="0.4">t</text>
<text x="120.8" y="1257.4" textLength="17.4" lengthAdjust="spacingAndGlyphs" font-size="12.1" font-family="Liberation Sans, Arial, sans-serif" font-weight="bold" fill="#000" stroke="#000" stroke-width="0.1">ON</text>
<text x="246.0" y="1258.8" textLength="7.0" lengthAdjust="spacingAndGlyphs" font-size="16.9" font-family="Liberation Sans, Arial, sans-serif" font-weight="bold" fill="#000" stroke="#000" stroke-width="0.4">t</text>
<text x="252.7" y="1261.7" textLength="39.1" lengthAdjust="spacingAndGlyphs" font-size="12.1" font-family="Liberation Sans, Arial, sans-serif" font-weight="bold" fill="#000" stroke="#000" stroke-width="0.1">DMAG</text>
</svg>
</body></html>
